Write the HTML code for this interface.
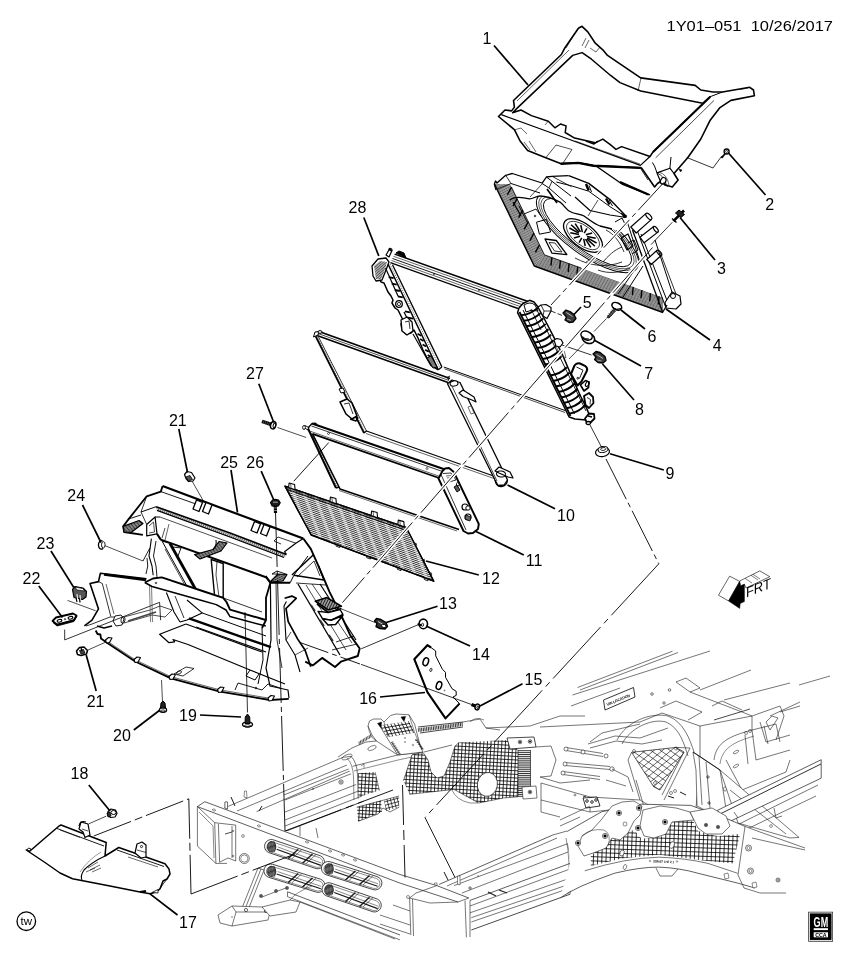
<!DOCTYPE html>
<html><head><meta charset="utf-8"><title>1Y01-051</title>
<style>
html,body{margin:0;padding:0;background:#fff;}
body{width:851px;height:960px;overflow:hidden;}
svg{display:block;will-change:transform;font-family:"Liberation Sans",sans-serif;fill:#000;}
svg path, svg line, svg polyline{stroke-linejoin:round;stroke-linecap:butt;}
</style></head><body>
<svg width="851" height="960" viewBox="0 0 851 960">
<rect x="0" y="0" width="851" height="960" fill="#fff" stroke="none"/>
<g id="chassis">
<path d="M577.5 687.5 L672.5 651.2" fill="none" stroke="#1a1a1a" stroke-width="0.6" /><path d="M580 690 L678 652.5" fill="none" stroke="#1a1a1a" stroke-width="0.6" /><path d="M572.5 695 L710 651" fill="none" stroke="#1a1a1a" stroke-width="0.6" /><path d="M571 706 L620 688" fill="none" stroke="#1a1a1a" stroke-width="0.6" /><path d="M700 690 L751 670" fill="none" stroke="#1a1a1a" stroke-width="0.6" /><path d="M724 700 L790 683" fill="none" stroke="#1a1a1a" stroke-width="0.6" /><path d="M770 716 L800 702" fill="none" stroke="#1a1a1a" stroke-width="0.6" /><path d="M603.5 700 L633.5 687.5 L635 697 L605 710 Z" fill="#fff" stroke="#000" stroke-width="0.8" /><text x="0" y="0" font-size="3.9" font-weight="bold" transform="translate(607.3,706) rotate(-22.5)" textLength="25" lengthAdjust="spacingAndGlyphs">VIN LOCATION</text><circle cx="652" cy="694" r="1.3" fill="none" stroke="#1a1a1a" stroke-width="0.6"/><circle cx="669.5" cy="690" r="1.3" fill="none" stroke="#1a1a1a" stroke-width="0.6"/><circle cx="664" cy="703" r="1.2" fill="none" stroke="#1a1a1a" stroke-width="0.6"/><path d="M224.6 807.9 L283 784 L343 757 L362 770 L365 800 L300 826 L285 831 L256 812 Z" fill="#fff" stroke="#fff" stroke-width="0.1" /><path d="M224.6 807.9 L343 757.3" fill="none" stroke="#1a1a1a" stroke-width="0.6" /><path d="M237 811 L347 765" fill="none" stroke="#1a1a1a" stroke-width="0.6" /><path d="M256.6 811.6 L352 770" fill="none" stroke="#1a1a1a" stroke-width="0.6" /><path d="M283.8 795 L356 766" fill="none" stroke="#1a1a1a" stroke-width="0.6" /><path d="M285 800 L358 771" fill="none" stroke="#1a1a1a" stroke-width="0.6" /><path d="M285 812 L360 783" fill="none" stroke="#1a1a1a" stroke-width="0.6" /><path d="M285 820 L361 790" fill="none" stroke="#1a1a1a" stroke-width="0.6" /><path d="M285 826 L362 796" fill="none" stroke="#1a1a1a" stroke-width="0.6" /><path d="M285 831.5 L364 801" fill="none" stroke="#1a1a1a" stroke-width="0.8" /><path d="M300 826 L300 838" fill="none" stroke="#1a1a1a" stroke-width="0.6" /><path d="M316 828 L318 838" fill="none" stroke="#1a1a1a" stroke-width="0.6" /><circle cx="341" cy="782" r="2.2" fill="none" stroke="#1a1a1a" stroke-width="0.6"/><circle cx="341" cy="782" r="1" fill="none" stroke="#1a1a1a" stroke-width="0.5"/><circle cx="313" cy="789" r="0.6" fill="none" stroke="#1a1a1a" stroke-width="0.5"/><path d="M231 797 L235 806" fill="none" stroke="#1a1a1a" stroke-width="1" /><path d="M262 806 L259 811" fill="none" stroke="#1a1a1a" stroke-width="1" /><path d="M225 808 L225 802 L227.5 802 L227.5 809 Z" fill="#fff" stroke="#1a1a1a" stroke-width="0.5" /><path d="M244 797 L244.5 791 L246.5 791 L247 798 Z" fill="#fff" stroke="#1a1a1a" stroke-width="0.5" /><path d="M343 757 L351 756.4 L366 742 L376.5 741 L397.7 755 L423 752 L412 755 L403.4 780.7 L399.1 796 L399.1 807.2 L358.2 821.3 L356.8 807.2 L364 801 Z" fill="#fff" stroke="#fff" stroke-width="0.1" /><path d="M351 756.4 Q357 762 357.5 775 L358.2 798.7" fill="none" stroke="#1a1a1a" stroke-width="0.6" /><path d="M347 758 Q353 764 353.5 777 L354 800" fill="none" stroke="#1a1a1a" stroke-width="0.5" /><clipPath id="c1"><polygon points="358.2,773.3 375.1,772 379.4,790.3 358.2,797.3"/></clipPath><path d="M351.5 762.1 L388.4 764 M351.3 765.7 L388.2 767.6 M351.1 769.3 L388 771.2 M350.9 772.9 L387.8 774.8 M350.7 776.5 L387.7 778.4 M350.5 780.1 L387.5 782 M350.3 783.7 L387.3 785.6 M350.1 787.3 L387.1 789.2 M349.9 790.9 L386.9 792.8 M349.8 794.5 L386.7 796.4 M349.6 798.1 L386.5 800 M349.4 801.7 L386.3 803.6 M349.2 805.3 L386.1 807.2 " clip-path="url(#c1)" fill="none" stroke="#000" stroke-width="0.8" /><clipPath id="c2"><polygon points="358.2,773.3 375.1,772 379.4,790.3 358.2,797.3"/></clipPath><path d="M391.3 767.3 L389.4 804.3 M387.7 767.1 L385.8 804.1 M384.1 766.9 L382.2 803.9 M380.6 766.7 L378.6 803.7 M377 766.5 L375 803.5 M373.4 766.4 L371.4 803.3 M369.8 766.2 L367.8 803.1 M366.2 766 L364.2 802.9 M362.6 765.8 L360.6 802.8 M359 765.6 L357 802.6 M355.4 765.4 L353.5 802.4 M351.8 765.2 L349.9 802.2 M348.2 765 L346.3 802 " clip-path="url(#c2)" fill="none" stroke="#000" stroke-width="0.8" /><path d="M375.1 772 L379.4 790.3" fill="none" stroke="#1a1a1a" stroke-width="0.5" /><clipPath id="c3"><polygon points="356.8,807.2 381,800.5 382,812 358.2,821.3"/></clipPath><path d="M352.2 789.6 L388.8 791.5 M352 793 L388.6 794.9 M351.8 796.4 L388.4 798.3 M351.6 799.8 L388.2 801.7 M351.4 803.1 L388.1 805.1 M351.3 806.5 L387.9 808.5 M351.1 809.9 L387.7 811.9 M350.9 813.3 L387.5 815.3 M350.7 816.7 L387.4 818.7 M350.6 820.1 L387.2 822 M350.4 823.5 L387 825.4 M350.2 826.9 L386.8 828.8 M350 830.3 L386.6 832.2 " clip-path="url(#c3)" fill="none" stroke="#000" stroke-width="0.8" /><clipPath id="c4"><polygon points="356.8,807.2 381,800.5 382,812 358.2,821.3"/></clipPath><path d="M390.7 793.7 L388.8 830.3 M387.3 793.5 L385.4 830.1 M383.9 793.3 L382 829.9 M380.5 793.1 L378.6 829.7 M377.2 792.9 L375.2 829.6 M373.8 792.8 L371.8 829.4 M370.4 792.6 L368.4 829.2 M367 792.4 L365 829 M363.6 792.2 L361.6 828.9 M360.2 792.1 L358.3 828.7 M356.8 791.9 L354.9 828.5 M353.4 791.7 L351.5 828.3 M350 791.5 L348.1 828.1 " clip-path="url(#c4)" fill="none" stroke="#000" stroke-width="0.8" /><clipPath id="c5"><polygon points="384,800 399.1,796 399.1,807.2 386,811"/></clipPath><path d="M375.8 793.6 L400.2 787.1 M376.7 796.9 L401.1 790.4 M377.6 800.2 L402 793.7 M378.5 803.5 L402.9 796.9 M379.3 806.8 L403.8 800.2 M380.2 810.1 L404.6 803.5 M381.1 813.3 L405.5 806.8 M382 816.6 L406.4 810.1 M382.9 819.9 L407.3 813.4 " clip-path="url(#c5)" fill="none" stroke="#000" stroke-width="0.7" /><clipPath id="c6"><polygon points="384,800 399.1,796 399.1,807.2 386,811"/></clipPath><path d="M401.4 787.8 L408 812.2 M398.1 788.6 L404.7 813.1 M394.8 789.5 L401.4 814 M391.6 790.4 L398.1 814.8 M388.3 791.3 L394.8 815.7 M385 792.2 L391.5 816.6 M381.7 793 L388.3 817.5 M378.4 793.9 L385 818.4 M375.1 794.8 L381.7 819.2 " clip-path="url(#c6)" fill="none" stroke="#000" stroke-width="0.7" /><path d="M356.8 807.2 L399.1 796" fill="none" stroke="#1a1a1a" stroke-width="0.6" /><path d="M358.2 821.3 L378 814 L383 808 L390 812 L399.1 807.2" fill="none" stroke="#1a1a1a" stroke-width="0.6" /><path d="M352.6 766.3 L397.7 755 L423 752" fill="none" stroke="#1a1a1a" stroke-width="0.6" /><path d="M354 771 L398 760 L412 757" fill="none" stroke="#1a1a1a" stroke-width="0.5" /><path d="M343 757.3 L351 756.4" fill="none" stroke="#1a1a1a" stroke-width="0.6" /><path d="M338 757 L352 748 L366 742 L376.5 741" fill="none" stroke="#1a1a1a" stroke-width="0.6" /><ellipse cx="347" cy="757" rx="5.5" ry="2.2" transform="rotate(-22 347 757)" fill="none" stroke="#1a1a1a" stroke-width="0.5"/><ellipse cx="372" cy="748" rx="4.5" ry="2" transform="rotate(-22 372 748)" fill="none" stroke="#1a1a1a" stroke-width="0.5"/><clipPath id="c7"><polygon points="358,742 371,734 372,737 359,745"/></clipPath><path d="M374.1 726.8 L377.9 748.3 M372.6 727.1 L376.3 748.6 M371 727.4 L374.8 748.8 M369.4 727.7 L373.2 749.1 M367.8 727.9 L371.6 749.4 M366.3 728.2 L370 749.7 M364.7 728.5 L368.5 750 M363.1 728.8 L366.9 750.2 M361.5 729 L365.3 750.5 M360 729.3 L363.7 750.8 M358.4 729.6 L362.2 751.1 M356.8 729.9 L360.6 751.3 M355.2 730.2 L359 751.6 M353.7 730.4 L357.4 751.9 M352.1 730.7 L355.9 752.2 " clip-path="url(#c7)" fill="none" stroke="#000" stroke-width="0.7" /><path d="M361 766 L364 764 L364 768" fill="none" stroke="#1a1a1a" stroke-width="0.5" /><path d="M368 726 L369.5 721 L373.7 719 L381 719 L384 722 L390.6 715.5 L396 714 L409 714.8 L414.6 724 L420.3 746.5 L423 752 L397.7 755 L376.5 741 L372 735 Z" fill="#fff" stroke="#1a1a1a" stroke-width="0.6" /><clipPath id="c8"><polygon points="379.4,725.4 409,721.2 414.6,732.4 388,737"/></clipPath><path d="M371.9 709.4 L413.8 702 M372.5 712.7 L414.4 705.3 M373.1 716.1 L415 708.7 M373.7 719.4 L415.6 712 M374.3 722.8 L416.2 715.4 M374.9 726.1 L416.8 718.7 M375.4 729.4 L417.4 722.1 M376 732.8 L418 725.4 M376.6 736.1 L418.6 728.8 M377.2 739.5 L419.1 732.1 M377.8 742.8 L419.7 735.4 M378.4 746.2 L420.3 738.8 M379 749.5 L420.9 742.1 M379.6 752.9 L421.5 745.5 M380.2 756.2 L422.1 748.8 " clip-path="url(#c8)" fill="none" stroke="#000" stroke-width="0.8" /><clipPath id="c9"><polygon points="379.4,725.4 409,721.2 414.6,732.4 388,737"/></clipPath><path d="M409.6 699.7 L427.6 738.3 M406.5 701.2 L424.5 739.8 M403.4 702.6 L421.4 741.2 M400.3 704.1 L418.3 742.6 M397.2 705.5 L415.2 744.1 M394.2 706.9 L412.2 745.5 M391.1 708.4 L409.1 747 M388 709.8 L406 748.4 M384.9 711.2 L402.9 749.8 M381.8 712.7 L399.8 751.3 M378.8 714.1 L396.8 752.7 M375.7 715.6 L393.7 754.1 M372.6 717 L390.6 755.6 M369.5 718.4 L387.5 757 M366.4 719.9 L384.4 758.5 " clip-path="url(#c9)" fill="none" stroke="#000" stroke-width="0.8" /><path d="M379.4 725.4 L397.7 755" fill="none" stroke="#1a1a1a" stroke-width="0.6" /><path d="M384 722 L388 737" fill="none" stroke="#1a1a1a" stroke-width="0.5" /><path d="M409 714.8 L414.6 732.4 L422 750" fill="none" stroke="#1a1a1a" stroke-width="0.5" /><clipPath id="c10"><polygon points="390.6,742.3 393,741 401,754 398.5,755"/></clipPath><path d="M383.3 739 L404.4 735.3 M383.7 741.2 L404.8 737.5 M384.1 743.4 L405.2 739.6 M384.5 745.5 L405.6 741.8 M384.9 747.7 L406 744 M385.2 749.9 L406.4 746.1 M385.6 752 L406.7 748.3 M386 754.2 L407.1 750.5 M386.4 756.4 L407.5 752.6 M386.8 758.5 L407.9 754.8 M387.2 760.7 L408.3 757 " clip-path="url(#c10)" fill="none" stroke="#000" stroke-width="0.7" /><path d="M391.5 742 L400 754.5" fill="none" stroke="#1a1a1a" stroke-width="0.7" /><clipPath id="c11"><polygon points="414.6,739.5 417,738.5 424,749 422,750"/></clipPath><path d="M408.1 735.1 L426.7 731.8 M408.5 737.2 L427.1 733.9 M408.9 739.4 L427.4 736.1 M409.3 741.6 L427.8 738.3 M409.6 743.7 L428.2 740.4 M410 745.9 L428.6 742.6 M410.4 748.1 L429 744.8 M410.8 750.2 L429.3 746.9 M411.2 752.4 L429.7 749.1 M411.5 754.6 L430.1 751.3 M411.9 756.7 L430.5 753.4 " clip-path="url(#c11)" fill="none" stroke="#000" stroke-width="0.7" /><path d="M415.5 739 L423 749.5" fill="none" stroke="#1a1a1a" stroke-width="0.7" /><path d="M377.5 723.5 L381.5 722 L381 727.5 Z" fill="#000" stroke="#000" stroke-width="0.5" /><path d="M401 717 L405.5 716.5 L404 721.5 Z" fill="#000" stroke="#000" stroke-width="0.5" /><circle cx="405" cy="738" r="0.6" fill="none" stroke="#1a1a1a" stroke-width="0.4"/><circle cx="405" cy="742" r="0.6" fill="none" stroke="#1a1a1a" stroke-width="0.4"/><circle cx="413" cy="745" r="0.8" fill="none" stroke="#1a1a1a" stroke-width="0.4"/><path d="M368 726 Q370 738 376.5 741" fill="none" stroke="#1a1a1a" stroke-width="0.5" /><clipPath id="c12"><polygon points="417.4,728.2 450,724.3 463,722 463,726 450,728 418.5,732"/></clipPath><path d="M463.4 699.5 L467.8 750 M461.7 699.7 L466.1 750.2 M460 699.8 L464.4 750.3 M458.3 700 L462.7 750.5 M456.6 700.1 L461 750.6 M454.9 700.3 L459.3 750.8 M453.2 700.4 L457.7 750.9 M451.5 700.6 L456 751.1 M449.8 700.7 L454.3 751.2 M448.2 700.9 L452.6 751.4 M446.5 701 L450.9 751.5 M444.8 701.2 L449.2 751.7 M443.1 701.3 L447.5 751.8 M441.4 701.5 L445.8 751.9 M439.7 701.6 L444.1 752.1 M438 701.8 L442.4 752.2 M436.3 701.9 L440.7 752.4 M434.6 702.1 L439 752.5 M432.9 702.2 L437.3 752.7 M431.2 702.3 L435.6 752.8 M429.5 702.5 L433.9 753 M427.8 702.6 L432.2 753.1 M426.1 702.8 L430.6 753.3 M424.4 702.9 L428.9 753.4 M422.7 703.1 L427.2 753.6 M421.1 703.2 L425.5 753.7 M419.4 703.4 L423.8 753.9 M417.7 703.5 L422.1 754 M416 703.7 L420.4 754.2 M414.3 703.8 L418.7 754.3 M412.6 704 L417 754.5 " clip-path="url(#c12)" fill="none" stroke="#000" stroke-width="0.8" /><path d="M418 727 L463 722" fill="none" stroke="#1a1a1a" stroke-width="0.8" /><path d="M420 733 L463 727" fill="none" stroke="#1a1a1a" stroke-width="0.8" /><path d="M403.4 780.7 L412 754.8 L423 752.3 L428 760 L431 772 L437 778 L444 776 L450 762 L455 746 L459 742.5 L508 740 L518 750 L518 796.8 L503.4 798 L478.7 803 L454 789.4 L409.6 794.3 Z" fill="#fff" stroke="#fff" stroke-width="0.1" /><clipPath id="c13"><polygon points="403.4,780.7 412,754.8 423,752.3 428,760 431,772 437,778 444,776 450,762 455,746 459,742.5 508,740 518,750 518,796.8 503.4,798 478.7,803 454,789.4 409.6,794.3"/></clipPath><path d="M397 699.7 L531.6 706.7 M396.8 703.3 L531.4 710.3 M396.6 706.9 L531.2 713.9 M396.4 710.5 L531 717.5 M396.2 714 L530.8 721.1 M396 717.6 L530.6 724.7 M395.9 721.2 L530.4 728.3 M395.7 724.8 L530.3 731.9 M395.5 728.4 L530.1 735.5 M395.3 732 L529.9 739.1 M395.1 735.6 L529.7 742.7 M394.9 739.2 L529.5 746.3 M394.7 742.8 L529.3 749.9 M394.5 746.4 L529.1 753.5 M394.3 750 L528.9 757.1 M394.2 753.6 L528.7 760.6 M394 757.2 L528.6 764.2 M393.8 760.8 L528.4 767.8 M393.6 764.4 L528.2 771.4 M393.4 768 L528 775 M393.2 771.6 L527.8 778.6 M393 775.2 L527.6 782.2 M392.8 778.8 L527.4 785.8 M392.7 782.4 L527.2 789.4 M392.5 785.9 L527.1 793 M392.3 789.5 L526.9 796.6 M392.1 793.1 L526.7 800.2 M391.9 796.7 L526.5 803.8 M391.7 800.3 L526.3 807.4 M391.5 803.9 L526.1 811 M391.3 807.5 L525.9 814.6 M391.1 811.1 L525.7 818.2 M391 814.7 L525.5 821.8 M390.8 818.3 L525.4 825.4 M390.6 821.9 L525.2 829 M390.4 825.5 L525 832.5 M390.2 829.1 L524.8 836.1 M390 832.7 L524.6 839.7 M389.8 836.3 L524.4 843.3 " clip-path="url(#c13)" fill="none" stroke="#000" stroke-width="0.8" /><clipPath id="c14"><polygon points="403.4,780.7 412,754.8 423,752.3 428,760 431,772 437,778 444,776 450,762 455,746 459,742.5 508,740 518,750 518,796.8 503.4,798 478.7,803 454,789.4 409.6,794.3"/></clipPath><path d="M532.5 707.8 L525.5 842.4 M528.9 707.6 L521.9 842.2 M525.3 707.4 L518.3 842 M521.7 707.2 L514.7 841.8 M518.2 707 L511.1 841.6 M514.6 706.8 L507.5 841.4 M511 706.7 L503.9 841.2 M507.4 706.5 L500.3 841.1 M503.8 706.3 L496.7 840.9 M500.2 706.1 L493.1 840.7 M496.6 705.9 L489.5 840.5 M493 705.7 L485.9 840.3 M489.4 705.5 L482.3 840.1 M485.8 705.3 L478.7 839.9 M482.2 705.1 L475.1 839.7 M478.6 705 L471.6 839.5 M475 704.8 L468 839.4 M471.4 704.6 L464.4 839.2 M467.8 704.4 L460.8 839 M464.2 704.2 L457.2 838.8 M460.6 704 L453.6 838.6 M457 703.8 L450 838.4 M453.4 703.6 L446.4 838.2 M449.8 703.5 L442.8 838 M446.3 703.3 L439.2 837.9 M442.7 703.1 L435.6 837.7 M439.1 702.9 L432 837.5 M435.5 702.7 L428.4 837.3 M431.9 702.5 L424.8 837.1 M428.3 702.3 L421.2 836.9 M424.7 702.1 L417.6 836.7 M421.1 701.9 L414 836.5 M417.5 701.8 L410.4 836.3 M413.9 701.6 L406.8 836.2 M410.3 701.4 L403.2 836 M406.7 701.2 L399.7 835.8 M403.1 701 L396.1 835.6 M399.5 700.8 L392.5 835.4 M395.9 700.6 L388.9 835.2 " clip-path="url(#c14)" fill="none" stroke="#000" stroke-width="0.8" /><ellipse cx="487.4" cy="784.4" rx="10" ry="12" transform="rotate(10 487.4 784.4)" fill="#fff" stroke="#1a1a1a" stroke-width="0.7"/><path d="M403.4 780.7 L412 754.8 L423 752.3 L428 760 L431 772 L437 778 L444 776 L450 762 L455 746 L459 742.5" fill="none" stroke="#1a1a1a" stroke-width="0.6" /><path d="M409.6 794.3 L454 789.4 L478.7 803 L503.4 798 L518 796.8" fill="none" stroke="#1a1a1a" stroke-width="0.6" /><path d="M452 790 Q456 800 470 803 L478 803" fill="none" stroke="#1a1a1a" stroke-width="0.5" /><clipPath id="c15"><polygon points="518,750 530.5,750 530.5,797 518,797"/></clipPath><path d="M497.9 746.9 L550.6 746.9 M497.9 748.8 L550.6 748.8 M497.9 750.7 L550.6 750.7 M497.9 752.6 L550.6 752.6 M497.9 754.5 L550.6 754.5 M497.9 756.4 L550.6 756.4 M497.9 758.3 L550.6 758.3 M497.9 760.2 L550.6 760.2 M497.9 762.1 L550.6 762.1 M497.9 764 L550.6 764 M497.9 765.9 L550.6 765.9 M497.9 767.8 L550.6 767.8 M497.9 769.7 L550.6 769.7 M497.9 771.6 L550.6 771.6 M497.9 773.5 L550.6 773.5 M497.9 775.4 L550.6 775.4 M497.9 777.3 L550.6 777.3 M497.9 779.2 L550.6 779.2 M497.9 781.1 L550.6 781.1 M497.9 783 L550.6 783 M497.9 784.9 L550.6 784.9 M497.9 786.8 L550.6 786.8 M497.9 788.7 L550.6 788.7 M497.9 790.6 L550.6 790.6 M497.9 792.5 L550.6 792.5 M497.9 794.4 L550.6 794.4 M497.9 796.3 L550.6 796.3 M497.9 798.2 L550.6 798.2 M497.9 800.1 L550.6 800.1 " clip-path="url(#c15)" fill="none" stroke="#000" stroke-width="0.8" /><path d="M518 750 L518 797" fill="none" stroke="#1a1a1a" stroke-width="0.7" /><path d="M530.5 750 L530.5 797" fill="none" stroke="#1a1a1a" stroke-width="0.7" /><path d="M507 738 L534 737 L536 747 L510 749 Z" fill="#fff" stroke="#1a1a1a" stroke-width="0.8" /><circle cx="520" cy="742" r="1.8" fill="#fff" stroke="#1a1a1a" stroke-width="0.6"/><circle cx="520" cy="742" r="0.8" fill="#000" stroke="#000" stroke-width="0.5"/><circle cx="530" cy="741.5" r="1.8" fill="#fff" stroke="#1a1a1a" stroke-width="0.6"/><circle cx="530" cy="741.5" r="0.8" fill="#000" stroke="#000" stroke-width="0.5"/><path d="M522 787 L536 786 L537 798 L523 799 Z" fill="#fff" stroke="#1a1a1a" stroke-width="0.6" /><circle cx="530" cy="792" r="1.8" fill="#fff" stroke="#1a1a1a" stroke-width="0.6"/><circle cx="530" cy="792" r="0.8" fill="#000" stroke="#000" stroke-width="0.5"/><path d="M463 722 L480 719 L486 728 L500 730" fill="none" stroke="#1a1a1a" stroke-width="0.6" /><path d="M424 752 L452 745" fill="none" stroke="#1a1a1a" stroke-width="0.6" /><path d="M470 722 Q476 716 484 720" fill="none" stroke="#1a1a1a" stroke-width="0.5" /><path d="M486 728 L530 726 L560 716 L585 716" fill="none" stroke="#1a1a1a" stroke-width="0.6" /><path d="M540 727 L640 722" fill="none" stroke="#1a1a1a" stroke-width="0.6" /><path d="M536 747 L551 746 L556 760 L551 776 L540 777" fill="none" stroke="#1a1a1a" stroke-width="0.6" /><path d="M540 777 L560 783 L590 780" fill="none" stroke="#1a1a1a" stroke-width="0.6" /><path d="M566 747.5 L603 753.5" fill="none" stroke="#1a1a1a" stroke-width="0.6" /><path d="M566 750.5 L603 756.5" fill="none" stroke="#1a1a1a" stroke-width="0.6" /><circle cx="566" cy="749" r="2" fill="#fff" stroke="#1a1a1a" stroke-width="0.6"/><path d="M565 762.5 L610 766.5" fill="none" stroke="#1a1a1a" stroke-width="0.6" /><path d="M565 765.5 L610 769.5" fill="none" stroke="#1a1a1a" stroke-width="0.6" /><circle cx="565" cy="764" r="2" fill="#fff" stroke="#1a1a1a" stroke-width="0.6"/><path d="M563 771.5 L600 776.5" fill="none" stroke="#1a1a1a" stroke-width="0.6" /><path d="M563 774.5 L600 779.5" fill="none" stroke="#1a1a1a" stroke-width="0.6" /><circle cx="563" cy="773" r="2" fill="#fff" stroke="#1a1a1a" stroke-width="0.6"/><circle cx="583" cy="752" r="2" fill="#fff" stroke="#1a1a1a" stroke-width="0.6"/><circle cx="606" cy="756" r="2" fill="#fff" stroke="#1a1a1a" stroke-width="0.6"/><circle cx="612" cy="769" r="2.2" fill="#fff" stroke="#1a1a1a" stroke-width="0.6"/><path d="M588 744 L615 736 L640 738 L668 728" fill="none" stroke="#1a1a1a" stroke-width="0.6" /><path d="M590 748 L616 741 L642 744 L662 740" fill="none" stroke="#1a1a1a" stroke-width="0.6" /><path d="M612 769 L628 777 L633 792" fill="none" stroke="#1a1a1a" stroke-width="0.6" /><path d="M606 780 L626 786" fill="none" stroke="#1a1a1a" stroke-width="0.6" /><path d="M541 783 L590 797 L590 812 L541 800 Z" fill="#fff" stroke="#1a1a1a" stroke-width="0.6" /><path d="M541 800 L541 812 L560 817" fill="none" stroke="#1a1a1a" stroke-width="0.6" /><circle cx="575" cy="795" r="1" fill="none" stroke="#1a1a1a" stroke-width="0.5"/><path d="M590 797 L640 800" fill="none" stroke="#1a1a1a" stroke-width="0.6" /><path d="M590 812 L628 808" fill="none" stroke="#1a1a1a" stroke-width="0.6" /><path d="M583 798 L597 797 L600 806 L586 808 Z" fill="#fff" stroke="#000" stroke-width="0.8" /><circle cx="587" cy="801" r="1.3" fill="none" stroke="#000" stroke-width="0.8"/><circle cx="592" cy="802" r="1.3" fill="none" stroke="#000" stroke-width="0.8"/><circle cx="596" cy="800" r="1.3" fill="none" stroke="#000" stroke-width="0.8"/><path d="M617 740 C626 722 650 712 668 716 C684 722 690 740 694 752" fill="none" stroke="#1a1a1a" stroke-width="0.6" /><path d="M622 744 C630 728 652 718 666 722 C680 728 684 744 688 756" fill="none" stroke="#1a1a1a" stroke-width="0.6" /><path d="M590 742 L602 733 L640 724" fill="none" stroke="#1a1a1a" stroke-width="0.6" /><path d="M631.6 752.3 L676 747.4 L684 752 L660 790 L653.8 786.9 Z" fill="#fff" stroke="#1a1a1a" stroke-width="0.7" /><clipPath id="c16"><polygon points="631.6,752.3 676,747.4 684,752 660,790 653.8,786.9"/></clipPath><path d="M650.6 716.6 L709.2 757.7 M647.4 721.2 L706 762.2 M644.3 725.7 L702.9 766.7 M641.1 730.2 L699.7 771.2 M638 734.7 L696.6 775.7 M634.8 739.2 L693.4 780.2 M631.7 743.7 L690.3 784.7 M628.5 748.2 L687.1 789.2 M625.3 752.7 L683.9 793.7 M622.2 757.2 L680.8 798.2 M619 761.7 L677.6 802.7 M615.9 766.2 L674.5 807.2 M612.7 770.7 L671.3 811.7 M609.6 775.2 L668.2 816.2 M606.4 779.7 L665 820.8 " clip-path="url(#c16)" fill="none" stroke="#000" stroke-width="0.6" /><clipPath id="c17"><polygon points="631.6,752.3 676,747.4 684,752 660,790 653.8,786.9"/></clipPath><path d="M605.7 762.2 L660.5 716.2 M609.2 766.4 L664 720.4 M612.7 770.6 L667.5 724.6 M616.3 774.8 L671.1 728.9 M619.8 779.1 L674.6 733.1 M623.3 783.3 L678.1 737.3 M626.9 787.5 L681.7 741.5 M630.4 791.7 L685.2 745.7 M633.9 795.9 L688.7 749.9 M637.5 800.1 L692.3 754.1 M641 804.3 L695.8 758.3 M644.5 808.5 L699.3 762.6 M648.1 812.8 L702.9 766.8 M651.6 817 L706.4 771 M655.1 821.2 L709.9 775.2 " clip-path="url(#c17)" fill="none" stroke="#000" stroke-width="0.6" /><path d="M676 747.4 L690 748 L664 800" fill="none" stroke="#1a1a1a" stroke-width="0.6" /><path d="M684 752 L662 795" fill="none" stroke="#1a1a1a" stroke-width="0.6" /><circle cx="634" cy="751" r="1.5" fill="none" stroke="#1a1a1a" stroke-width="0.5"/><circle cx="676" cy="748.5" r="1.5" fill="none" stroke="#1a1a1a" stroke-width="0.5"/><circle cx="655" cy="783" r="1.5" fill="none" stroke="#1a1a1a" stroke-width="0.5"/><path d="M631.6 752.3 L628 760 L640 800 L650 806" fill="none" stroke="#1a1a1a" stroke-width="0.6" /><path d="M636 780 L645 810" fill="none" stroke="#1a1a1a" stroke-width="0.6" /><path d="M660 708 L676 701 L702 712 L688 720" fill="none" stroke="#1a1a1a" stroke-width="0.6" /><path d="M640 722 L662 713 L700 726 L752 716" fill="none" stroke="#1a1a1a" stroke-width="0.6" /><path d="M676 682 L686 678 L700 688 L690 692 L676 682" fill="none" stroke="#1a1a1a" stroke-width="0.6" /><path d="M690 692 L742 712 L752 716 L752 730" fill="none" stroke="#1a1a1a" stroke-width="0.6" /><path d="M700 726 L700 760 L696 808" fill="none" stroke="#1a1a1a" stroke-width="0.6" /><path d="M712 706 L722 701 L742 710" fill="none" stroke="#1a1a1a" stroke-width="0.6" /><path d="M714 720 L750 709" fill="none" stroke="#1a1a1a" stroke-width="0.8" /><path d="M752 716 L780 706 L784 716 L776 740" fill="none" stroke="#1a1a1a" stroke-width="0.6" /><path d="M760 722 L766 742 L790 735" fill="none" stroke="#1a1a1a" stroke-width="0.6" /><path d="M714 760 C716 742 730 736 752 730 L776 724" fill="none" stroke="#1a1a1a" stroke-width="0.6" /><path d="M720 764 C722 748 734 742 754 736" fill="none" stroke="#1a1a1a" stroke-width="0.5" /><path d="M752 730 L756 760 L790 750" fill="none" stroke="#1a1a1a" stroke-width="0.6" /><path d="M745 735 L748 764" fill="none" stroke="#1a1a1a" stroke-width="0.6" /><path d="M764 726 L768 744" fill="none" stroke="#1a1a1a" stroke-width="0.6" /><path d="M776 724 L780 742" fill="none" stroke="#1a1a1a" stroke-width="0.6" /><circle cx="750" cy="731" r="1.5" fill="none" stroke="#1a1a1a" stroke-width="0.5"/><circle cx="746" cy="733" r="1.5" fill="none" stroke="#1a1a1a" stroke-width="0.5"/><path d="M766 722 L772 716 L778 718 L770 730 L766 722" fill="none" stroke="#1a1a1a" stroke-width="0.6" /><ellipse cx="736" cy="752" rx="1.2" ry="3" transform="rotate(60 736 752)" fill="none" stroke="#1a1a1a" stroke-width="0.5"/><ellipse cx="736" cy="766" rx="1.2" ry="3" transform="rotate(60 736 766)" fill="none" stroke="#1a1a1a" stroke-width="0.5"/><path d="M726 760 L742 790 L786 772" fill="none" stroke="#1a1a1a" stroke-width="0.6" /><path d="M786 772 L790 760" fill="none" stroke="#1a1a1a" stroke-width="0.6" /><path d="M799 685 L830 676" fill="none" stroke="#1a1a1a" stroke-width="0.6" /><path d="M780 712 L800 706" fill="none" stroke="#1a1a1a" stroke-width="0.6" /><path d="M693 752 L699 756 L720 770 L728 822 L697 806 L696 770 Z" fill="#fff" stroke="#1a1a1a" stroke-width="0.6" /><path d="M699 756 L702 805" fill="none" stroke="#1a1a1a" stroke-width="0.6" /><path d="M706 762 L710 808" fill="none" stroke="#1a1a1a" stroke-width="0.6" /><path d="M693 752 L720 770" fill="none" stroke="#1a1a1a" stroke-width="1" /><circle cx="708" cy="777" r="1.2" fill="none" stroke="#000" stroke-width="0.6"/><circle cx="709" cy="803" r="1.2" fill="none" stroke="#000" stroke-width="0.6"/><ellipse cx="725" cy="789" rx="1.5" ry="2.2" transform="rotate(0 725 789)" fill="none" stroke="#1a1a1a" stroke-width="0.5"/><path d="M720 770 L799 837.4 L790 838 L738 823 Z" fill="#fff" stroke="#1a1a1a" stroke-width="0.6" /><path d="M730 790 L786 834" fill="none" stroke="#1a1a1a" stroke-width="0.6" /><circle cx="771" cy="826" r="1.4" fill="none" stroke="#1a1a1a" stroke-width="0.5"/><path d="M717.5 810.3 L821.2 759.7 L821.2 778.2 L727.4 822.6 Z" fill="#fff" stroke="#1a1a1a" stroke-width="0.7" /><path d="M720 814 L821 764" fill="none" stroke="#1a1a1a" stroke-width="0.9" /><path d="M735 826 L818 785" fill="none" stroke="#1a1a1a" stroke-width="0.6" /><path d="M745 830 L816 796" fill="none" stroke="#1a1a1a" stroke-width="0.6" /><path d="M774 808 L776 818 L782 816" fill="none" stroke="#1a1a1a" stroke-width="0.6" /><path d="M439.2 884.4 L552.8 835 L567 831 L572 892 L570 894.2 L471.3 930 L470 900 Z" fill="#fff" stroke="#fff" stroke-width="0.1" /><path d="M439.2 884.4 L552.8 835" fill="none" stroke="#1a1a1a" stroke-width="0.7" /><path d="M447 886 L557 838" fill="none" stroke="#1a1a1a" stroke-width="0.6" /><path d="M454 885.6 L567.6 843.7" fill="none" stroke="#1a1a1a" stroke-width="0.6" /><path d="M462 893 L568 852" fill="none" stroke="#1a1a1a" stroke-width="0.6" /><path d="M470 900.4 L570 863.4" fill="none" stroke="#1a1a1a" stroke-width="0.7" /><path d="M470 906 L570 869" fill="none" stroke="#1a1a1a" stroke-width="0.6" /><path d="M470 912.8 L570 878.2" fill="none" stroke="#1a1a1a" stroke-width="0.6" /><path d="M471.3 917.7 L570 884" fill="none" stroke="#1a1a1a" stroke-width="0.6" /><path d="M471.3 922 L570 888.1" fill="none" stroke="#1a1a1a" stroke-width="0.6" /><path d="M471.3 930 L570 894.2" fill="none" stroke="#1a1a1a" stroke-width="0.8" /><path d="M552.8 835 L567 831 L575 838" fill="none" stroke="#1a1a1a" stroke-width="0.6" /><path d="M567.6 843.7 Q573 865 570 894.2" fill="none" stroke="#1a1a1a" stroke-width="0.6" /><path d="M566 838 Q571 862 568 894" fill="none" stroke="#1a1a1a" stroke-width="0.5" /><circle cx="470" cy="888" r="1.2" fill="none" stroke="#000" stroke-width="0.6"/><path d="M488 892 L496 896" fill="none" stroke="#1a1a1a" stroke-width="1.2" /><path d="M499 890 L507 893" fill="none" stroke="#1a1a1a" stroke-width="1.2" /><circle cx="478" cy="876" r="0.5" fill="none" stroke="#1a1a1a" stroke-width="0.4"/><path d="M457.5 884 L457.5 876 L460 876 L460 885 Z" fill="#fff" stroke="#1a1a1a" stroke-width="0.5" /><path d="M434 890 L434.5 883 L437 883 L437 891 Z" fill="#fff" stroke="#1a1a1a" stroke-width="0.5" /><path d="M444 872 L448 880" fill="none" stroke="#1a1a1a" stroke-width="1" /><path d="M567.4 831.3 L602 811.6 L641.4 804.2 L690.8 805.4 L727.8 819 L745 826.4 L760 832 L755 888 L737.7 883.1 L698.2 873.3 L658.7 867.1 L614.3 873.3 L574.8 888 L560 898 L570 864 Z" fill="#fff" stroke="#fff" stroke-width="0.1" /><path d="M567.4 831.3 L602 811.6 L641.4 804.2 L690.8 805.4 L727.8 819 L745 826.4" fill="none" stroke="#1a1a1a" stroke-width="0.7" /><path d="M560 898 Q575 887 614.3 873.3 Q640 867 658.7 867.1 Q680 868 698.2 873.3 L737.7 883.1 L755 888" fill="none" stroke="#1a1a1a" stroke-width="0.7" /><path d="M584.7 870.8 Q625 858 658.7 857.2 Q685 858 708 863.4 L737.7 873.3" fill="none" stroke="#1a1a1a" stroke-width="0.6" /><clipPath id="c18"><polygon points="590.8,865.9 590.8,856 611.8,836.2 634,830 641.4,838.7 663.6,836.2 671,819 693.3,821.4 698.2,831.3 718,836.2 740.2,833.8 732.8,863.4 708,861 658.7,854.8 621.7,858.5"/></clipPath><path d="M588.2 755.7 L748.7 761.3 M588 759.9 L748.5 765.5 M587.9 764.1 L748.4 769.7 M587.7 768.3 L748.2 773.9 M587.6 772.5 L748.1 778.1 M587.5 776.7 L747.9 782.3 M587.3 780.9 L747.8 786.5 M587.2 785.1 L747.7 790.7 M587 789.3 L747.5 794.9 M586.9 793.5 L747.4 799.1 M586.7 797.7 L747.2 803.3 M586.6 801.9 L747.1 807.5 M586.4 806.1 L746.9 811.7 M586.3 810.3 L746.8 815.9 M586.1 814.5 L746.6 820.1 M586 818.7 L746.5 824.3 M585.8 822.9 L746.3 828.5 M585.7 827.1 L746.2 832.7 M585.5 831.3 L746 836.9 M585.4 835.5 L745.9 841.1 M585.3 839.6 L745.7 845.3 M585.1 843.8 L745.6 849.4 M585 848 L745.5 853.6 M584.8 852.2 L745.3 857.8 M584.7 856.4 L745.2 862 M584.5 860.6 L745 866.2 M584.4 864.8 L744.9 870.4 M584.2 869 L744.7 874.6 M584.1 873.2 L744.6 878.8 M583.9 877.4 L744.4 883 M583.8 881.6 L744.3 887.2 M583.6 885.8 L744.1 891.4 M583.5 890 L744 895.6 M583.3 894.2 L743.8 899.8 M583.2 898.4 L743.7 904 M583.1 902.6 L743.5 908.2 M582.9 906.8 L743.4 912.4 M582.8 911 L743.3 916.6 M582.6 915.2 L743.1 920.8 M582.5 919.4 L743 925 M582.3 923.6 L742.8 929.2 " clip-path="url(#c18)" fill="none" stroke="#000" stroke-width="0.8" /><clipPath id="c19"><polygon points="590.8,865.9 590.8,856 611.8,836.2 634,830 641.4,838.7 663.6,836.2 671,819 693.3,821.4 698.2,831.3 718,836.2 740.2,833.8 732.8,863.4 708,861 658.7,854.8 621.7,858.5"/></clipPath><path d="M752.3 765.1 L746.6 925.6 M748.1 765 L742.4 925.5 M743.9 764.8 L738.3 925.3 M739.7 764.7 L734.1 925.2 M735.5 764.5 L729.9 925 M731.3 764.4 L725.7 924.9 M727.1 764.3 L721.5 924.7 M722.9 764.1 L717.3 924.6 M718.7 764 L713.1 924.5 M714.5 763.8 L708.9 924.3 M710.3 763.7 L704.7 924.2 M706.1 763.5 L700.5 924 M701.9 763.4 L696.3 923.9 M697.7 763.2 L692.1 923.7 M693.5 763.1 L687.9 923.6 M689.3 762.9 L683.7 923.4 M685.1 762.8 L679.5 923.3 M680.9 762.6 L675.3 923.1 M676.7 762.5 L671.1 923 M672.5 762.4 L666.9 922.8 M668.3 762.2 L662.7 922.7 M664.1 762.1 L658.5 922.5 M659.9 761.9 L654.3 922.4 M655.7 761.8 L650.1 922.3 M651.5 761.6 L645.9 922.1 M647.3 761.5 L641.7 922 M643.1 761.3 L637.5 921.8 M638.9 761.2 L633.3 921.7 M634.7 761 L629.1 921.5 M630.5 760.9 L624.9 921.4 M626.3 760.7 L620.7 921.2 M622.1 760.6 L616.5 921.1 M617.9 760.4 L612.3 920.9 M613.7 760.3 L608.1 920.8 M609.5 760.2 L603.9 920.6 M605.3 760 L599.7 920.5 M601.1 759.9 L595.5 920.4 M596.9 759.7 L591.3 920.2 M592.7 759.6 L587.1 920.1 M588.6 759.4 L582.9 919.9 M584.4 759.3 L578.7 919.8 " clip-path="url(#c19)" fill="none" stroke="#000" stroke-width="0.8" /><path d="M601 820 L612 806 L622 802 L634 801 L642 806 L640 815 L634 821 L628 833 L620 840 L612 838 L606 848 L596 852 L584 856 L578 846 L582 836 L592 830 Z" fill="#fff" stroke="#1a1a1a" stroke-width="0.6" /><path d="M582 836 Q590 828 604 830 Q612 834 608 846" fill="none" stroke="#1a1a1a" stroke-width="0.5" /><path d="M643 810 L660 806 L676 808 L690 812 L694 820 L672 822 L666 834 L654 838 L644 836 L640 826 Z" fill="#fff" stroke="#1a1a1a" stroke-width="0.6" /><path d="M690 812 L712 808 L726 816 L730 826 L722 834 L706 834 L698 828 Z" fill="#fff" stroke="#1a1a1a" stroke-width="0.6" /><circle cx="619" cy="813" r="2.6" fill="#fff" stroke="#1a1a1a" stroke-width="0.6"/><circle cx="619" cy="813" r="1.3" fill="#000" stroke="#000" stroke-width="0.5"/><circle cx="639" cy="808" r="2.6" fill="#fff" stroke="#1a1a1a" stroke-width="0.6"/><circle cx="639" cy="808" r="1.3" fill="#000" stroke="#000" stroke-width="0.5"/><circle cx="605" cy="836" r="2.6" fill="#fff" stroke="#1a1a1a" stroke-width="0.6"/><circle cx="605" cy="836" r="1.3" fill="#000" stroke="#000" stroke-width="0.5"/><circle cx="578" cy="843" r="2.6" fill="#fff" stroke="#1a1a1a" stroke-width="0.6"/><circle cx="578" cy="843" r="1.3" fill="#000" stroke="#000" stroke-width="0.5"/><circle cx="638" cy="828" r="2.6" fill="#fff" stroke="#1a1a1a" stroke-width="0.6"/><circle cx="638" cy="828" r="1.3" fill="#000" stroke="#000" stroke-width="0.5"/><circle cx="665" cy="822" r="2.6" fill="#fff" stroke="#1a1a1a" stroke-width="0.6"/><circle cx="665" cy="822" r="1.3" fill="#000" stroke="#000" stroke-width="0.5"/><circle cx="706" cy="825" r="1.7" fill="#fff" stroke="#1a1a1a" stroke-width="0.6"/><circle cx="706" cy="825" r="0.8" fill="#000" stroke="#000" stroke-width="0.5"/><circle cx="718" cy="827" r="1.7" fill="#fff" stroke="#1a1a1a" stroke-width="0.6"/><circle cx="718" cy="827" r="0.8" fill="#000" stroke="#000" stroke-width="0.5"/><circle cx="625" cy="824" r="2" fill="none" stroke="#1a1a1a" stroke-width="0.5"/><ellipse cx="622" cy="853" rx="2" ry="3.2" transform="rotate(20 622 853)" fill="#fff" stroke="#1a1a1a" stroke-width="0.6"/><ellipse cx="672" cy="845" rx="2.2" ry="3.6" transform="rotate(20 672 845)" fill="#fff" stroke="#1a1a1a" stroke-width="0.6"/><ellipse cx="625" cy="867" rx="1.6" ry="2.6" transform="rotate(20 625 867)" fill="none" stroke="#1a1a1a" stroke-width="0.5"/><text x="0" y="0" font-size="3.2" font-weight="bold" transform="translate(653,862.5) rotate(2)" textLength="21" lengthAdjust="spacingAndGlyphs">S55007 LHF 2.1</text><circle cx="650" cy="861" r="0.8" fill="none" stroke="#1a1a1a" stroke-width="0.4"/><circle cx="677" cy="861.5" r="0.8" fill="none" stroke="#1a1a1a" stroke-width="0.4"/><path d="M745 826.4 L760 832 L805 848" fill="none" stroke="#1a1a1a" stroke-width="0.6" /><path d="M745 826.4 L738 875 L744 888 L760 893 L786 893" fill="none" stroke="#1a1a1a" stroke-width="0.6" /><path d="M752 838 L805 850" fill="none" stroke="#1a1a1a" stroke-width="0.6" /><circle cx="748.5" cy="848" r="3" fill="none" stroke="#1a1a1a" stroke-width="0.6"/><circle cx="748.5" cy="848" r="1.5" fill="none" stroke="#1a1a1a" stroke-width="0.5"/><circle cx="750.5" cy="871" r="3" fill="none" stroke="#1a1a1a" stroke-width="0.6"/><circle cx="750.5" cy="871" r="1.5" fill="none" stroke="#1a1a1a" stroke-width="0.5"/><circle cx="778" cy="880" r="2" fill="none" stroke="#1a1a1a" stroke-width="0.6"/><circle cx="778" cy="880" r="1" fill="none" stroke="#1a1a1a" stroke-width="0.5"/><path d="M752 883 L756 882 L757 887 L753 888 Z" fill="#fff" stroke="#1a1a1a" stroke-width="0.5" /><path d="M724 874 L728 873 L729 878 L725 879 Z" fill="#fff" stroke="#1a1a1a" stroke-width="0.5" /><path d="M656 868 L660 876 L672 876 L678 869" fill="none" stroke="#1a1a1a" stroke-width="0.6" /><path d="M734 812 L738 818" fill="none" stroke="#1a1a1a" stroke-width="0.6" /><path d="M583 797 L586 796 Z" fill="#fff" stroke="#000" stroke-width="0.5" /><path d="M560 820 L590 806" fill="none" stroke="#1a1a1a" stroke-width="0.6" /><path d="M560 826 L580 817" fill="none" stroke="#1a1a1a" stroke-width="0.6" /><path d="M668 796 L674 798" fill="none" stroke="#1a1a1a" stroke-width="1" /><path d="M680 792 L686 795" fill="none" stroke="#1a1a1a" stroke-width="1" /><circle cx="671" cy="793" r="1.5" fill="none" stroke="#1a1a1a" stroke-width="0.5"/><circle cx="675" cy="791" r="1.5" fill="none" stroke="#1a1a1a" stroke-width="0.5"/><path d="M204.8 801.7 L436.8 885.6 L468.8 898 L470 937 L410 935 L287.5 891.8 L254 868 L217.5 864 L197.4 846.1 L197.4 806.6 Z" fill="#fff" stroke="#fff" stroke-width="0.1" /><path d="M204.8 801.7 L400 874.5 L436.8 885.6 L468.8 898" fill="none" stroke="#1a1a1a" stroke-width="0.7" /><path d="M197.4 806.6 L400 883.1 L458 902" fill="none" stroke="#1a1a1a" stroke-width="0.7" /><path d="M197.4 806.6 L204.8 801.7" fill="none" stroke="#1a1a1a" stroke-width="0.7" /><path d="M197.4 806.6 L197.4 846.1 L215.9 863.4 L227 863.4" fill="none" stroke="#1a1a1a" stroke-width="0.6" /><path d="M197.4 806.6 L214.7 822.7 L215.9 863.4" fill="none" stroke="#1a1a1a" stroke-width="0.6" /><path d="M199 812 L213 826 L214 858" fill="none" stroke="#1a1a1a" stroke-width="0.5" /><path d="M214.7 822.7 L235.7 825.1" fill="none" stroke="#1a1a1a" stroke-width="0.6" /><path d="M218.4 823.9 L219.6 862.2" fill="none" stroke="#1a1a1a" stroke-width="0.6" /><path d="M235.7 825.1 L235.7 860.9" fill="none" stroke="#1a1a1a" stroke-width="0.6" /><path d="M232 826 L232 858" fill="none" stroke="#1a1a1a" stroke-width="0.6" /><path d="M225 834 L232 832" fill="none" stroke="#1a1a1a" stroke-width="0.8" /><circle cx="233" cy="831" r="0.8" fill="none" stroke="#1a1a1a" stroke-width="0.5"/><circle cx="233" cy="856" r="0.8" fill="none" stroke="#1a1a1a" stroke-width="0.5"/><path d="M219.6 862.2 L228 858 L236 861" fill="none" stroke="#1a1a1a" stroke-width="0.6" /><circle cx="244.3" cy="858.5" r="5" fill="#fff" stroke="#1a1a1a" stroke-width="0.6"/><circle cx="244.3" cy="858.5" r="3.6" fill="none" stroke="#1a1a1a" stroke-width="0.5"/><circle cx="243" cy="836" r="1.4" fill="none" stroke="#1a1a1a" stroke-width="0.5"/><ellipse cx="214" cy="810" rx="1.6" ry="0.9" transform="rotate(20 214 810)" fill="none" stroke="#1a1a1a" stroke-width="0.5"/><ellipse cx="259" cy="826" rx="1.6" ry="0.9" transform="rotate(20 259 826)" fill="none" stroke="#1a1a1a" stroke-width="0.5"/><ellipse cx="307" cy="842" rx="1.6" ry="0.9" transform="rotate(20 307 842)" fill="none" stroke="#1a1a1a" stroke-width="0.5"/><ellipse cx="330" cy="851" rx="1.6" ry="0.9" transform="rotate(20 330 851)" fill="none" stroke="#1a1a1a" stroke-width="0.5"/><ellipse cx="343" cy="855" rx="1.6" ry="0.9" transform="rotate(20 343 855)" fill="none" stroke="#1a1a1a" stroke-width="0.5"/><ellipse cx="355" cy="860" rx="1.6" ry="0.9" transform="rotate(20 355 860)" fill="none" stroke="#1a1a1a" stroke-width="0.5"/><path d="M225 808 L225 802 L227.5 802 L227.5 809 Z" fill="#fff" stroke="#1a1a1a" stroke-width="0.5" /><path d="M268.5 852.5 L316.1 868.6 A6.8 6.8 0 0 0 320.5 855.8 L272.9 839.7 A6.8 6.8 0 0 0 268.5 852.5 Z" fill="#fff" stroke="#1a1a1a" stroke-width="0.8" /><path d="M269.9 851.7 L316.4 867.3 A5.1 5.1 0 0 0 319.6 857.7 L273.1 842.1 A5.1 5.1 0 0 0 269.9 851.7 Z" fill="none" stroke="#1a1a1a" stroke-width="0.5" /><clipPath id="c20"><polygon points="276.1,846.7 275.7,848.8 274.8,850.7 273.3,851.9 271.5,852.3 269.7,851.9 268.2,850.7 267.3,848.8 266.9,846.7 267.3,844.6 268.2,842.7 269.7,841.5 271.5,841.1 273.3,841.5 274.8,842.7 275.7,844.6"/></clipPath><path d="M279.2 836 L282.4 854.2 M278.2 836.1 L281.4 854.3 M277.1 836.3 L280.3 854.5 M276.1 836.5 L279.3 854.7 M275.1 836.7 L278.3 854.9 M274 836.9 L277.2 855.1 M273 837 L276.2 855.3 M272 837.2 L275.2 855.4 M270.9 837.4 L274.1 855.6 M269.9 837.6 L273.1 855.8 M268.9 837.8 L272.1 856 M267.8 838 L271 856.2 M266.8 838.1 L270 856.4 M265.8 838.3 L269 856.5 M264.7 838.5 L267.9 856.7 M263.7 838.7 L266.9 856.9 M262.7 838.9 L265.9 857.1 M261.6 839.1 L264.8 857.3 M260.6 839.2 L263.8 857.4 " clip-path="url(#c20)" fill="none" stroke="#000" stroke-width="0.8" /><path d="M273.7 841.1 Q277.7 846.6 274.2 852.1" fill="none" stroke="#1a1a1a" stroke-width="0.7" /><path d="M288.2 858.5 L298.2 849.3" fill="none" stroke="#1a1a1a" stroke-width="1.4" /><path d="M291.7 858.9 L301.7 849.7" fill="none" stroke="#1a1a1a" stroke-width="0.6" /><path d="M302.5 863.3 L312.5 854.1" fill="none" stroke="#1a1a1a" stroke-width="1.4" /><path d="M306 863.7 L316 854.5" fill="none" stroke="#1a1a1a" stroke-width="0.6" /><path d="M276.7 849.3 L320.8 865.4" fill="none" stroke="#1a1a1a" stroke-width="1.2" /><path d="M277.7 846.9 L321.3 863" fill="none" stroke="#1a1a1a" stroke-width="0.5" /><path d="M268.7 877.3 L316.3 892.1 A6.8 6.8 0 0 0 320.3 879.1 L272.7 864.3 A6.8 6.8 0 0 0 268.7 877.3 Z" fill="#fff" stroke="#1a1a1a" stroke-width="0.8" /><path d="M270 876.5 L316.5 890.8 A5.1 5.1 0 0 0 319.5 881 L273 866.7 A5.1 5.1 0 0 0 270 876.5 Z" fill="none" stroke="#1a1a1a" stroke-width="0.5" /><clipPath id="c21"><polygon points="276.1,871.4 275.7,873.5 274.8,875.4 273.3,876.6 271.5,877 269.7,876.6 268.2,875.4 267.3,873.5 266.9,871.4 267.3,869.3 268.2,867.4 269.7,866.2 271.5,865.8 273.3,866.2 274.8,867.4 275.7,869.3"/></clipPath><path d="M279.2 860.7 L282.4 878.9 M278.2 860.8 L281.4 879 M277.1 861 L280.3 879.2 M276.1 861.2 L279.3 879.4 M275.1 861.4 L278.3 879.6 M274 861.6 L277.2 879.8 M273 861.7 L276.2 880 M272 861.9 L275.2 880.1 M270.9 862.1 L274.1 880.3 M269.9 862.3 L273.1 880.5 M268.9 862.5 L272.1 880.7 M267.8 862.7 L271 880.9 M266.8 862.8 L270 881.1 M265.8 863 L269 881.2 M264.7 863.2 L267.9 881.4 M263.7 863.4 L266.9 881.6 M262.7 863.6 L265.9 881.8 M261.6 863.8 L264.8 882 M260.6 863.9 L263.8 882.1 " clip-path="url(#c21)" fill="none" stroke="#000" stroke-width="0.8" /><path d="M273.7 865.8 Q277.7 871.3 274.2 876.8" fill="none" stroke="#1a1a1a" stroke-width="0.7" /><path d="M288.2 882.6 L298.2 873.4" fill="none" stroke="#1a1a1a" stroke-width="1.4" /><path d="M291.7 883 L301.7 873.8" fill="none" stroke="#1a1a1a" stroke-width="0.6" /><path d="M302.5 887.1 L312.5 877.9" fill="none" stroke="#1a1a1a" stroke-width="1.4" /><path d="M306 887.5 L316 878.3" fill="none" stroke="#1a1a1a" stroke-width="0.6" /><path d="M276.7 874 L320.8 888.8" fill="none" stroke="#1a1a1a" stroke-width="1.2" /><path d="M277.7 871.6 L321.3 886.4" fill="none" stroke="#1a1a1a" stroke-width="0.5" /><path d="M326.2 874.8 L373.1 889.6 A6.8 6.8 0 0 0 377.1 876.6 L330.2 861.8 A6.8 6.8 0 0 0 326.2 874.8 Z" fill="#fff" stroke="#1a1a1a" stroke-width="0.8" /><path d="M327.5 874 L373.3 888.3 A5.1 5.1 0 0 0 376.3 878.5 L330.5 864.2 A5.1 5.1 0 0 0 327.5 874 Z" fill="none" stroke="#1a1a1a" stroke-width="0.5" /><clipPath id="c22"><polygon points="333.6,868.9 333.2,871 332.3,872.9 330.8,874.1 329,874.5 327.2,874.1 325.7,872.9 324.8,871 324.4,868.9 324.8,866.8 325.7,864.9 327.2,863.7 329,863.3 330.8,863.7 332.3,864.9 333.2,866.8"/></clipPath><path d="M336.7 858.2 L339.9 876.4 M335.7 858.3 L338.9 876.5 M334.6 858.5 L337.8 876.7 M333.6 858.7 L336.8 876.9 M332.6 858.9 L335.8 877.1 M331.5 859.1 L334.7 877.3 M330.5 859.2 L333.7 877.5 M329.5 859.4 L332.7 877.6 M328.4 859.6 L331.6 877.8 M327.4 859.8 L330.6 878 M326.4 860 L329.6 878.2 M325.3 860.2 L328.5 878.4 M324.3 860.3 L327.5 878.6 M323.3 860.5 L326.5 878.7 M322.2 860.7 L325.4 878.9 M321.2 860.9 L324.4 879.1 M320.2 861.1 L323.4 879.3 M319.1 861.3 L322.3 879.5 M318.1 861.4 L321.3 879.6 " clip-path="url(#c22)" fill="none" stroke="#000" stroke-width="0.8" /><path d="M331.2 863.3 Q335.2 868.8 331.7 874.3" fill="none" stroke="#1a1a1a" stroke-width="0.7" /><path d="M345.4 880.1 L355.4 870.9" fill="none" stroke="#1a1a1a" stroke-width="1.4" /><path d="M348.9 880.5 L358.9 871.3" fill="none" stroke="#1a1a1a" stroke-width="0.6" /><path d="M359.5 884.6 L369.5 875.4" fill="none" stroke="#1a1a1a" stroke-width="1.4" /><path d="M363 885 L373 875.8" fill="none" stroke="#1a1a1a" stroke-width="0.6" /><path d="M334.2 871.5 L377.6 886.3" fill="none" stroke="#1a1a1a" stroke-width="1.2" /><path d="M335.2 869.1 L378.1 883.9" fill="none" stroke="#1a1a1a" stroke-width="0.5" /><path d="M326 895.7 L372.9 911.8 A6.8 6.8 0 0 0 377.3 899 L330.4 882.9 A6.8 6.8 0 0 0 326 895.7 Z" fill="#fff" stroke="#1a1a1a" stroke-width="0.8" /><path d="M327.4 894.9 L373.2 910.5 A5.1 5.1 0 0 0 376.4 900.9 L330.6 885.3 A5.1 5.1 0 0 0 327.4 894.9 Z" fill="none" stroke="#1a1a1a" stroke-width="0.5" /><clipPath id="c23"><polygon points="333.6,889.9 333.2,892 332.3,893.9 330.8,895.1 329,895.5 327.2,895.1 325.7,893.9 324.8,892 324.4,889.9 324.8,887.8 325.7,885.9 327.2,884.7 329,884.3 330.8,884.7 332.3,885.9 333.2,887.8"/></clipPath><path d="M336.7 879.2 L339.9 897.4 M335.7 879.3 L338.9 897.5 M334.6 879.5 L337.8 897.7 M333.6 879.7 L336.8 897.9 M332.6 879.9 L335.8 898.1 M331.5 880.1 L334.7 898.3 M330.5 880.2 L333.7 898.5 M329.5 880.4 L332.7 898.6 M328.4 880.6 L331.6 898.8 M327.4 880.8 L330.6 899 M326.4 881 L329.6 899.2 M325.3 881.2 L328.5 899.4 M324.3 881.3 L327.5 899.6 M323.3 881.5 L326.5 899.7 M322.2 881.7 L325.4 899.9 M321.2 881.9 L324.4 900.1 M320.2 882.1 L323.4 900.3 M319.1 882.3 L322.3 900.5 M318.1 882.4 L321.3 900.6 " clip-path="url(#c23)" fill="none" stroke="#000" stroke-width="0.8" /><path d="M331.2 884.3 Q335.2 889.8 331.7 895.3" fill="none" stroke="#1a1a1a" stroke-width="0.7" /><path d="M345.4 901.7 L355.4 892.5" fill="none" stroke="#1a1a1a" stroke-width="1.4" /><path d="M348.9 902.1 L358.9 892.9" fill="none" stroke="#1a1a1a" stroke-width="0.6" /><path d="M359.5 906.5 L369.5 897.3" fill="none" stroke="#1a1a1a" stroke-width="1.4" /><path d="M363 906.9 L373 897.7" fill="none" stroke="#1a1a1a" stroke-width="0.6" /><path d="M334.2 892.5 L377.6 908.6" fill="none" stroke="#1a1a1a" stroke-width="1.2" /><path d="M335.2 890.1 L378.1 906.2" fill="none" stroke="#1a1a1a" stroke-width="0.5" /><path d="M409.6 898 L410.8 935" fill="none" stroke="#1a1a1a" stroke-width="0.6" /><path d="M412.5 899 L413.5 936" fill="none" stroke="#1a1a1a" stroke-width="0.6" /><path d="M465 900.4 L466.4 937.4" fill="none" stroke="#1a1a1a" stroke-width="0.6" /><path d="M470 900.4 L470 937" fill="none" stroke="#1a1a1a" stroke-width="0.6" /><path d="M409.6 898 L416 893 L436.8 885.6" fill="none" stroke="#1a1a1a" stroke-width="0.6" /><path d="M409.6 898 L430 903 L458 902 L468.8 898" fill="none" stroke="#1a1a1a" stroke-width="0.6" /><circle cx="408" cy="897" r="1.5" fill="none" stroke="#1a1a1a" stroke-width="0.5"/><path d="M380 924 L410 934" fill="none" stroke="#1a1a1a" stroke-width="0.6" /><path d="M380 915 L410 925" fill="none" stroke="#1a1a1a" stroke-width="0.6" /><path d="M393 905 L410 911" fill="none" stroke="#1a1a1a" stroke-width="0.6" /><path d="M287.5 891.8 L400 935" fill="none" stroke="#1a1a1a" stroke-width="0.7" /><path d="M287.5 896.7 L400 939.9" fill="none" stroke="#1a1a1a" stroke-width="0.6" /><path d="M287.5 891.8 L287.5 896.7" fill="none" stroke="#1a1a1a" stroke-width="0.6" /><path d="M300 902 L395 939" fill="none" stroke="#1a1a1a" stroke-width="0.6" /><path d="M258 868 L264 870 L248 910 L242 908 Z" fill="#fff" stroke="#1a1a1a" stroke-width="0.6" /><path d="M261 869 L245 909" fill="none" stroke="#1a1a1a" stroke-width="0.6" /><path d="M218 915 L232 906 L262 907 L270 912 L268 920 L232 926 L220 923 Z" fill="#fff" stroke="#1a1a1a" stroke-width="0.6" /><path d="M232 906 L236 912 L266 912" fill="none" stroke="#1a1a1a" stroke-width="0.6" /><path d="M236 912 L232 926" fill="none" stroke="#1a1a1a" stroke-width="0.6" /><circle cx="246" cy="910" r="1.6" fill="none" stroke="#000" stroke-width="0.6"/><circle cx="266" cy="911" r="1.6" fill="none" stroke="#000" stroke-width="0.6"/><circle cx="232" cy="917" r="0.5" fill="none" stroke="#1a1a1a" stroke-width="0.4"/><path d="M262 907 L290 900 L300 902 L296 912 L270 916 Z" fill="#fff" stroke="#1a1a1a" stroke-width="0.6" /><path d="M262 897 L275 892 L286 888" fill="none" stroke="#1a1a1a" stroke-width="0.6" /><circle cx="261" cy="896" r="1.6" fill="#fff" stroke="#1a1a1a" stroke-width="0.6"/><circle cx="261" cy="896" r="0.7" fill="#000" stroke="#000" stroke-width="0.5"/><circle cx="276" cy="891" r="1.6" fill="#fff" stroke="#1a1a1a" stroke-width="0.6"/><circle cx="276" cy="891" r="0.7" fill="#000" stroke="#000" stroke-width="0.5"/><circle cx="287" cy="888" r="1.6" fill="#fff" stroke="#1a1a1a" stroke-width="0.6"/><circle cx="287" cy="888" r="0.7" fill="#000" stroke="#000" stroke-width="0.5"/><path d="M290 900 Q296 892 312 886" fill="none" stroke="#1a1a1a" stroke-width="0.5" />
</g>
<g id="p17">
<path d="M26.2 850 L30 851 L45 838 L58.8 826.2 L61 825 L106.2 842.5 L105 856 L118.8 847.5 L165 863.8 L169 869 L170 874 L167 879 L163 881 L160 888.8 L156 892 L150 893.8 L140 892 L110 886 L72.5 878.8 L60 873 L45 862.5 Z" fill="#fff" stroke="#000" stroke-width="1.5" /><path d="M57 828.5 L104 846" fill="none" stroke="#000" stroke-width="0.9" /><path d="M60 830 L80 837.5" fill="none" stroke="#000" stroke-width="0.6" /><path d="M117 850 L164 866.5" fill="none" stroke="#000" stroke-width="0.9" /><path d="M128 857 L158 867" fill="none" stroke="#000" stroke-width="0.6" /><path d="M105 856 Q92 862 84 870 Q80 876 82 880" fill="none" stroke="#000" stroke-width="1.1" /><path d="M101 852 Q88 860 80 872" fill="none" stroke="#555" stroke-width="0.6" /><path d="M88 868 L98 862" fill="none" stroke="#000" stroke-width="0.6" /><path d="M90 870 L100 865" fill="none" stroke="#000" stroke-width="0.6" /><path d="M92 872 L101 868" fill="none" stroke="#000" stroke-width="0.6" /><path d="M86 872 L95 868" fill="none" stroke="#000" stroke-width="0.6" /><path d="M27 850 L28.5 848 L31 849 L30 851 Z" fill="#fff" stroke="#000" stroke-width="0.9" /><path d="M79 829 L81 822 L88 824 L90 835 L85 837.5 L83 832 Z" fill="#fff" stroke="#000" stroke-width="1.2" /><path d="M79 826 Q80 820 86 822" fill="none" stroke="#000" stroke-width="1.2" /><path d="M82 829 L88 831" fill="none" stroke="#000" stroke-width="0.7" /><path d="M135 853 L137 844 L142 842 L146 845 L146 857 L141 858 Z" fill="#fff" stroke="#000" stroke-width="1.2" /><circle cx="141.5" cy="846.5" r="1.1" fill="none" stroke="#000" stroke-width="0.8"/><path d="M137 850 L146 852.5" fill="none" stroke="#000" stroke-width="0.7" /><path d="M167 879 Q163 884 160 888.75" fill="none" stroke="#000" stroke-width="0.8" /><path d="M152 892.5 L158 889.5 L158 893 Z" fill="#fff" stroke="#000" stroke-width="0.8" /><path d="M140 892 L146 891" fill="none" stroke="#000" stroke-width="2" /><path d="M106.2 816.2 L88.8 823.8" fill="none" stroke="#000" stroke-width="0.7" />
</g>
<g id="duct">
<path d="M100.4 573.2 L146.5 578.8 L161.5 577 L220 597.6 L266 620 L300 640 L340 661 L315 667.5 L300 672 L288.8 698.8 L270 700 L220 691.6 L170.9 678.4 L135.2 661.5 L107 642.7 L100.4 637.1 L95.7 630.5 L84.4 625.8 L92 620.2 L98.5 608.9 L90 583.5 L98.5 581.6 Z" fill="#fff" stroke="#fff" stroke-width="0.1" /><path d="M146.5 578.8 L100.4 573.2 L98.5 581.6 L90 583.5 L98.5 608.9 L92 620.2 L84.4 625.8" fill="none" stroke="#000" stroke-width="1.6" /><path d="M104 574.5 L146 580" fill="none" stroke="#000" stroke-width="2.4" /><path d="M102.3 583.5 L110.8 616.4" fill="none" stroke="#000" stroke-width="0.8" /><path d="M98.5 581.6 L102.3 583.5" fill="none" stroke="#000" stroke-width="0.8" /><path d="M106 584 L114 614" fill="none" stroke="#000" stroke-width="0.6" /><path d="M95.7 630.5 L97.5 634 L100.4 634.5 L101 638.5 L107 642.7 L135.2 661.5 L170.9 678.4 L220 691.6 L270 700 L288.8 698.8" fill="none" stroke="#000" stroke-width="1.8" /><path d="M107 641 L135.2 659.8 L170.9 676.7 L220 689.9 L268 698" fill="none" stroke="#000" stroke-width="0.6" /><path d="M105.5 640 L108.5 637.5 L112 638 L109.5 642.5 L106.5 643 Z" fill="#fff" stroke="#000" stroke-width="1.1" /><path d="M134 659.5 L137 657 L140.5 657.5 L138 662 L135 662.5 Z" fill="#fff" stroke="#000" stroke-width="1.1" /><path d="M169 676.5 L172 674 L175.5 674.5 L173 679 L170 679.5 Z" fill="#fff" stroke="#000" stroke-width="1.1" /><path d="M217.5 689.5 L220.5 687 L224 687.5 L221.5 692 L218.5 692.5 Z" fill="#fff" stroke="#000" stroke-width="1.1" /><path d="M268 698 L271 695.5 L274.5 696 L272 700.5 L269 701 Z" fill="#fff" stroke="#000" stroke-width="1.1" /><path d="M174 674 L186 667 L194 668.5 L183 676 Z" fill="#fff" stroke="#000" stroke-width="0.8" /><ellipse cx="179" cy="672.5" rx="2.6" ry="1.4" transform="rotate(-25 179 672.5)" fill="none" stroke="#000" stroke-width="0.8"/><path d="M186 624 L159.6 634.3 L169 642.7 L174.7 641.8 L173 639.5 L188 644.5 L250 670 L285 684" fill="none" stroke="#000" stroke-width="1.2" /><path d="M186 624 L262 652" fill="none" stroke="#000" stroke-width="1.2" /><path d="M250 670 L246 676 L255 680 L259 674" fill="none" stroke="#000" stroke-width="1" /><path d="M235 690 L238 683 L262 690 L268 684 L280 688" fill="none" stroke="#000" stroke-width="0.9" /><circle cx="256" cy="688" r="0.8" fill="none" stroke="#000" stroke-width="0.8"/><path d="M86 626 L92 624 L110 617 L120 617" fill="none" stroke="#000" stroke-width="0.8" /><path d="M113 621 L115 616 L121 615 L124 619 L122 625 L116 626 Z" fill="#fff" stroke="#000" stroke-width="0.9" /><ellipse cx="123" cy="620" rx="2" ry="3.4" transform="rotate(10 123 620)" fill="none" stroke="#000" stroke-width="0.8"/><path d="M124 617 L150 610" fill="none" stroke="#000" stroke-width="0.7" /><path d="M124 623 L152 615" fill="none" stroke="#000" stroke-width="0.7" /><path d="M128 621 L156 612" fill="none" stroke="#444" stroke-width="1.6" /><path d="M150 610 L160 606 L172 610 L165 617 L152 615" fill="none" stroke="#000" stroke-width="0.7" /><path d="M97 626 L104 628 L112 626" fill="none" stroke="#000" stroke-width="1.4" /><path d="M64.7 629.6 L64.7 639.9 L159.6 602.3 L160.6 620.2" fill="none" stroke="#000" stroke-width="0.8" /><path d="M67.5 600.4 L95.7 610.8" fill="none" stroke="#000" stroke-width="0.7" /><path d="M149.5 585 L150.5 622" fill="none" stroke="#444" stroke-width="0.7" /><path d="M151.5 585 L152.5 622" fill="none" stroke="#444" stroke-width="0.7" /><path d="M303.3 538.5 L310.8 548.9 L318.4 565.8 L329.6 592.1 L340.9 614.7 L350.3 635.4 L359.7 648.5 L357.8 656 L340.9 661.7 L335 667 L322.1 657.9 L312.7 665.4 L305.2 661.7 L300 672 L290 668 L266 640 L265.7 597.8 L270.4 582.7 L286.4 554.5 Z" fill="#fff" stroke="#fff" stroke-width="0.1" /><path d="M303.3 538.5 L310.8 548.9 L318.4 565.8 L329.6 592.1 L340.9 614.7 L350.3 635.4 L359.7 648.5 L357.8 656 L340.9 661.7 L335 667 L322.1 657.9 L312.7 665.4 L305.2 661.7" fill="none" stroke="#000" stroke-width="1.9" /><path d="M293.9 575.2 L324 579.9 L318.4 565.8" fill="none" stroke="#000" stroke-width="1.5" /><path d="M291.9 575 L313.7 554.6" fill="none" stroke="#000" stroke-width="1.4" /><path d="M297 577 L314 561 L320 576" fill="none" stroke="#000" stroke-width="0.8" /><path d="M290.2 582.7 L293.9 575.2 L308 556" fill="none" stroke="#000" stroke-width="1" /><path d="M296 583 L326 585" fill="none" stroke="#000" stroke-width="0.8" /><path d="M298 584 L340 655" fill="none" stroke="#000" stroke-width="1.3" /><path d="M306 585 L346 650" fill="none" stroke="#000" stroke-width="0.7" /><path d="M312 584 L352 643" fill="none" stroke="#000" stroke-width="0.7" /><path d="M320 584 L356 640" fill="none" stroke="#000" stroke-width="1.2" /><path d="M336 642 L354 636" fill="none" stroke="#000" stroke-width="0.8" /><path d="M332 650 L357 644" fill="none" stroke="#000" stroke-width="0.8" /><path d="M311 605 L315 611" fill="none" stroke="#333" stroke-width="1.6" /><path d="M320 620 L324 626" fill="none" stroke="#333" stroke-width="1.6" /><path d="M329 635 L333 641" fill="none" stroke="#333" stroke-width="1.6" /><path d="M284.6 598.3 L291.9 596.1 L296.2 598.3 L286 608.5 L288.2 621.6 L297.7 639.1 L305 650 L310.8 666.8" fill="none" stroke="#000" stroke-width="1.7" /><path d="M286.4 601.5 L284 606 L286 640 L295 655 L300 672" fill="none" stroke="#000" stroke-width="1.1" /><path d="M291 632 L286 640" fill="none" stroke="#000" stroke-width="0.7" /><path d="M295 655 L308 648" fill="none" stroke="#000" stroke-width="0.7" /><path d="M315.2 601.2 L326.9 597.6 L341.4 606.3 L328.3 610 Z" fill="#fff" stroke="#000" stroke-width="1.6" /><clipPath id="c24"><polygon points="315.2,601.2 326.9,597.6 341.4,606.3 328.3,610"/></clipPath><path d="M340 583.6 L348.5 615.5 M338.5 584 L347.1 615.8 M337.1 584.4 L345.6 616.2 M335.6 584.8 L344.2 616.6 M334.2 585.2 L342.7 617 M332.7 585.5 L341.3 617.4 M331.3 585.9 L339.8 617.8 M329.8 586.3 L338.4 618.2 M328.4 586.7 L336.9 618.6 M326.9 587.1 L335.5 619 M325.5 587.5 L334 619.3 M324 587.9 L332.6 619.7 M322.6 588.3 L331.1 620.1 M321.1 588.6 L329.7 620.5 M319.7 589 L328.2 620.9 M318.2 589.4 L326.8 621.3 M316.8 589.8 L325.3 621.7 M315.3 590.2 L323.9 622.1 M313.9 590.6 L322.4 622.4 M312.4 591 L321 622.8 M311 591.4 L319.5 623.2 M309.5 591.8 L318.1 623.6 M308.1 592.1 L316.6 624 " clip-path="url(#c24)" fill="none" stroke="#000" stroke-width="0.9" /><path d="M317 604 L328.3 612.5 L341.4 608.5" fill="none" stroke="#000" stroke-width="1.8" /><path d="M318.1 611.4 L328.3 612.5 L340 609.5 L342.9 614.3 L331.2 620.2 L322.5 618.7 Z" fill="#fff" stroke="#000" stroke-width="1.4" /><path d="M322.5 618.7 L331.2 620.2 L342.9 615.5 L335.6 624.5 L328 625 Z" fill="#fff" stroke="#000" stroke-width="1.5" /><path d="M162.6 486 L230 511.3 L303.3 538.5 L295.8 543.2 L284.5 551.7 L286.4 554.5 L270.4 582.7 L266 577.2 L160.8 539.6 L142.9 534.9 L124.1 532 L123.2 526.4 L128.8 518.9 L146.7 496.3 L160.8 491.6 Z" fill="#fff" stroke="#fff" stroke-width="0.1" /><path d="M162.6 486 L230 511.3 L303.3 538.5" fill="none" stroke="#000" stroke-width="2.2" /><path d="M162.6 486 L160.8 491.6 L146.7 496.3 L128.8 518.9 L123.2 526.4 L124.1 532 L142.9 534.9" fill="none" stroke="#000" stroke-width="1.8" /><path d="M160.8 491.6 L196 504" fill="none" stroke="#000" stroke-width="0.9" /><path d="M146.7 496.3 L141 512 L146.7 524.5" fill="none" stroke="#000" stroke-width="0.8" /><path d="M141 512 L156.1 506.7" fill="none" stroke="#000" stroke-width="1" /><path d="M156.1 506.7 L230 533 L286.4 554.5" fill="none" stroke="#000" stroke-width="1.6" /><path d="M157 510.4 L230 537 L284 557.5" fill="none" stroke="#000" stroke-width="1.2" /><clipPath id="c25"><polygon points="156.1,506.7 286.4,554.5 284,557.5 157,510.4"/></clipPath><path d="M264.3 439.9 L313.5 575.1 M262.8 440.4 L312 575.6 M261.3 441 L310.5 576.2 M259.8 441.5 L309 576.7 M258.3 442.1 L307.5 577.3 M256.8 442.6 L306 577.8 M255.3 443.2 L304.5 578.3 M253.8 443.7 L303 578.9 M252.3 444.3 L301.5 579.4 M250.8 444.8 L300 580 M249.3 445.4 L298.5 580.5 M247.8 445.9 L297 581.1 M246.3 446.5 L295.5 581.6 M244.8 447 L294 582.2 M243.3 447.5 L292.5 582.7 M241.8 448.1 L291 583.3 M240.3 448.6 L289.5 583.8 M238.7 449.2 L287.9 584.4 M237.2 449.7 L286.4 584.9 M235.7 450.3 L284.9 585.5 M234.2 450.8 L283.4 586 M232.7 451.4 L281.9 586.6 M231.2 451.9 L280.4 587.1 M229.7 452.5 L278.9 587.6 M228.2 453 L277.4 588.2 M226.7 453.6 L275.9 588.7 M225.2 454.1 L274.4 589.3 M223.7 454.7 L272.9 589.8 M222.2 455.2 L271.4 590.4 M220.7 455.8 L269.9 590.9 M219.2 456.3 L268.4 591.5 M217.7 456.9 L266.9 592 M216.2 457.4 L265.4 592.6 M214.7 457.9 L263.9 593.1 M213.2 458.5 L262.4 593.7 M211.7 459 L260.9 594.2 M210.2 459.6 L259.4 594.8 M208.7 460.1 L257.9 595.3 M207.2 460.7 L256.4 595.9 M205.7 461.2 L254.9 596.4 M204.2 461.8 L253.4 597 M202.7 462.3 L251.9 597.5 M201.2 462.9 L250.4 598 M199.7 463.4 L248.9 598.6 M198.2 464 L247.4 599.1 M196.6 464.5 L245.9 599.7 M195.1 465.1 L244.3 600.2 M193.6 465.6 L242.8 600.8 M192.1 466.2 L241.3 601.3 M190.6 466.7 L239.8 601.9 M189.1 467.2 L238.3 602.4 M187.6 467.8 L236.8 603 M186.1 468.3 L235.3 603.5 M184.6 468.9 L233.8 604.1 M183.1 469.4 L232.3 604.6 M181.6 470 L230.8 605.2 M180.1 470.5 L229.3 605.7 M178.6 471.1 L227.8 606.3 M177.1 471.6 L226.3 606.8 M175.6 472.2 L224.8 607.3 M174.1 472.7 L223.3 607.9 M172.6 473.3 L221.8 608.4 M171.1 473.8 L220.3 609 M169.6 474.4 L218.8 609.5 M168.1 474.9 L217.3 610.1 M166.6 475.5 L215.8 610.6 M165.1 476 L214.3 611.2 M163.6 476.6 L212.8 611.7 M162.1 477.1 L211.3 612.3 M160.6 477.6 L209.8 612.8 M159.1 478.2 L208.3 613.4 M157.6 478.7 L206.8 613.9 M156.1 479.3 L205.3 614.5 M154.6 479.8 L203.8 615 M153 480.4 L202.2 615.6 M151.5 480.9 L200.7 616.1 M150 481.5 L199.2 616.7 M148.5 482 L197.7 617.2 M147 482.6 L196.2 617.7 M145.5 483.1 L194.7 618.3 M144 483.7 L193.2 618.8 M142.5 484.2 L191.7 619.4 M141 484.8 L190.2 619.9 M139.5 485.3 L188.7 620.5 M138 485.9 L187.2 621 M136.5 486.4 L185.7 621.6 M135 486.9 L184.2 622.1 M133.5 487.5 L182.7 622.7 M132 488 L181.2 623.2 M130.5 488.6 L179.7 623.8 M129 489.1 L178.2 624.3 " clip-path="url(#c25)" fill="none" stroke="#000" stroke-width="0.6" /><path d="M160 517 L272 558" fill="none" stroke="#000" stroke-width="0.7" /><path d="M303.3 538.5 L295.8 543.2 L284.5 551.7 L286.4 554.5" fill="none" stroke="#000" stroke-width="1.2" /><path d="M295.8 543.2 L278 537 L274 541 L281 544" fill="none" stroke="#000" stroke-width="0.8" /><path d="M196.5 500 L202.5 502.5 L199 511.5 L193 509 Z" fill="#fff" stroke="#000" stroke-width="1.3" /><path d="M206 502.5 L212 505 L208.5 514 L202.5 511.5 Z" fill="#fff" stroke="#000" stroke-width="1.3" /><path d="M254.5 521.5 L260.5 524 L257 533 L251 530.5 Z" fill="#fff" stroke="#000" stroke-width="1.3" /><path d="M264 524.5 L270 527 L266.5 536 L260.5 533.5 Z" fill="#fff" stroke="#000" stroke-width="1.3" /><path d="M146.7 524.5 L155.1 517 L157 533.9 L146.7 535.8 Z" fill="#fff" stroke="#000" stroke-width="1.2" /><path d="M149 526 L153.5 522 L154.5 532 L149 533" fill="none" stroke="#000" stroke-width="0.7" /><path d="M155.1 517 L160 517" fill="none" stroke="#000" stroke-width="1" /><path d="M157 533.9 L160.8 539.6 L266 577.2 L270.4 582.7 L290.2 582.7" fill="none" stroke="#000" stroke-width="2" /><path d="M165 528 L162 538" fill="none" stroke="#000" stroke-width="0.7" /><path d="M169 524 L165 540" fill="none" stroke="#000" stroke-width="0.6" /><path d="M123.2 526.4 L139 520.5 L143 523.5 L131 532.5 L124.1 532 Z" fill="#fff" stroke="#000" stroke-width="1.2" /><clipPath id="c26"><polygon points="123.2,526.4 139,520.5 143,523.5 131,532.5 124.1,532"/></clipPath><path d="M115.4 517.6 L140.9 508.3 M115.8 518.7 L141.3 509.5 M116.2 519.9 L141.8 510.6 M116.6 521 L142.2 511.7 M117.1 522.1 L142.6 512.8 M117.5 523.2 L143 514 M117.9 524.4 L143.4 515.1 M118.3 525.5 L143.8 516.2 M118.7 526.6 L144.2 517.3 M119.1 527.8 L144.6 518.5 M119.5 528.9 L145 519.6 M119.9 530 L145.4 520.7 M120.3 531.1 L145.9 521.9 M120.8 532.3 L146.3 523 M121.2 533.4 L146.7 524.1 M121.6 534.5 L147.1 525.2 M122 535.7 L147.5 526.4 M122.4 536.8 L147.9 527.5 M122.8 537.9 L148.3 528.6 M123.2 539 L148.7 529.8 M123.6 540.2 L149.1 530.9 M124 541.3 L149.6 532 M124.4 542.4 L150 533.1 M124.9 543.5 L150.4 534.3 M125.3 544.7 L150.8 535.4 " clip-path="url(#c26)" fill="none" stroke="#000" stroke-width="0.8" /><path d="M128.8 518.9 L141 515" fill="none" stroke="#000" stroke-width="0.9" /><path d="M194.6 554.6 L213 549.5 L219 541.5 L227 543 L221 551 L200 559 Z" fill="#fff" stroke="#000" stroke-width="1.2" /><clipPath id="c27"><polygon points="194.6,554.6 213,549.5 219,541.5 227,543 221,551 200,559"/></clipPath><path d="M184.2 536.9 L222.6 523 M184.6 538.1 L223 524.1 M185.1 539.2 L223.4 525.2 M185.5 540.3 L223.8 526.4 M185.9 541.4 L224.2 527.5 M186.3 542.6 L224.6 528.6 M186.7 543.7 L225.1 529.7 M187.1 544.8 L225.5 530.9 M187.5 546 L225.9 532 M187.9 547.1 L226.3 533.1 M188.3 548.2 L226.7 534.2 M188.7 549.3 L227.1 535.4 M189.2 550.5 L227.5 536.5 M189.6 551.6 L227.9 537.6 M190 552.7 L228.3 538.8 M190.4 553.8 L228.7 539.9 M190.8 555 L229.2 541 M191.2 556.1 L229.6 542.1 M191.6 557.2 L230 543.3 M192 558.4 L230.4 544.4 M192.4 559.5 L230.8 545.5 M192.9 560.6 L231.2 546.7 M193.3 561.7 L231.6 547.8 M193.7 562.9 L232 548.9 M194.1 564 L232.4 550 M194.5 565.1 L232.9 551.2 M194.9 566.3 L233.3 552.3 M195.3 567.4 L233.7 553.4 M195.7 568.5 L234.1 554.5 M196.1 569.6 L234.5 555.7 M196.5 570.8 L234.9 556.8 M197 571.9 L235.3 557.9 M197.4 573 L235.7 559.1 M197.8 574.1 L236.1 560.2 M198.2 575.3 L236.5 561.3 M198.6 576.4 L237 562.4 M199 577.5 L237.4 563.6 " clip-path="url(#c27)" fill="none" stroke="#000" stroke-width="0.8" /><path d="M213 549.5 Q217 546 216 540" fill="none" stroke="#000" stroke-width="1.1" /><path d="M270 582 L278 574 L287 574.5 L283 581 Z" fill="#fff" stroke="#000" stroke-width="1.2" /><clipPath id="c28"><polygon points="270,582 278,574 287,574.5 283,581"/></clipPath><path d="M283.3 562.1 L294.7 581.8 M282.3 562.6 L293.7 582.4 M281.4 563.2 L292.8 582.9 M280.4 563.7 L291.8 583.5 M279.5 564.3 L290.9 584 M278.5 564.8 L289.9 584.6 M277.6 565.4 L289 585.1 M276.6 565.9 L288 585.7 M275.7 566.5 L287.1 586.2 M274.7 567 L286.1 586.8 M273.8 567.6 L285.1 587.3 M272.8 568.1 L284.2 587.9 M271.9 568.7 L283.2 588.4 M270.9 569.2 L282.3 589 M269.9 569.8 L281.3 589.5 M269 570.3 L280.4 590.1 M268 570.9 L279.4 590.6 M267.1 571.4 L278.5 591.2 M266.1 572 L277.5 591.7 M265.2 572.5 L276.6 592.3 M264.2 573.1 L275.6 592.8 M263.3 573.6 L274.7 593.4 M262.3 574.2 L273.7 593.9 " clip-path="url(#c28)" fill="none" stroke="#000" stroke-width="0.8" /><path d="M272 574 L277 571 L287 574.5 L278 574 Z" fill="#fff" stroke="#000" stroke-width="0.9" /><path d="M151.4 538.6 L149 556 L152 566 L153.2 575.3" fill="none" stroke="#000" stroke-width="1.1" /><path d="M156 541 L153.5 556 L156 566 L157 577" fill="none" stroke="#000" stroke-width="0.9" /><path d="M104.5 545.5 L143 561" fill="none" stroke="#000" stroke-width="0.7" /><path d="M143 561 Q147 553 150 548 M146 574 Q149 566 147 558" fill="none" stroke="#000" stroke-width="0.9" /><path d="M162 541 L170 543.5 L196 590 L188 588 Z" fill="#fff" stroke="#000" stroke-width="1" /><path d="M170 543.5 L196 590" fill="none" stroke="#000" stroke-width="2.8" /><path d="M165 549 L187 589" fill="none" stroke="#000" stroke-width="0.7" /><path d="M173 547 L181 548 L178 556" fill="none" stroke="#000" stroke-width="0.9" /><path d="M211.2 559.5 L223.2 563.7 L223.2 597.8 L214.6 596 Z" fill="#fff" stroke="#000" stroke-width="1.4" /><path d="M217 561 L216 575 L219 597" fill="none" stroke="#000" stroke-width="0.7" /><path d="M144.8 582.5 L153 578.5 L161.8 577.4 L204 591.5 L223.2 597.8 L226.5 602 L230 609.7 L265.8 620 L265.8 626 L230 616.6 L226 610 L216.3 604.6 L200 600 L161.8 589.3 L152 586.5 L144.8 582.5 Z" fill="#fff" stroke="#fff" stroke-width="0.1" /><path d="M144.8 582.5 L153 578.5 L161.8 577.4 L204 591.5 L223.2 597.8 L226.5 602 L230 609.7 L265.8 620" fill="none" stroke="#000" stroke-width="1.9" /><path d="M144.8 582.5 L152 586.5 L161.8 589.3 L200 600 L216.3 604.6 L226 610 L230 616.6 L265.8 626" fill="none" stroke="#000" stroke-width="1.5" /><circle cx="156" cy="583" r="0.8" fill="none" stroke="#000" stroke-width="0.7"/><path d="M166.4 592.5 L174 612 L180 622" fill="none" stroke="#000" stroke-width="1.1" /><path d="M175 596 L184 618" fill="none" stroke="#000" stroke-width="0.8" /><path d="M187 600 L202.1 612.9 L187 620 L180 622" fill="none" stroke="#000" stroke-width="1.1" /><path d="M189 618.3 L270.9 647.2" fill="none" stroke="#000" stroke-width="2.4" /><path d="M196 627 L266 652" fill="none" stroke="#000" stroke-width="1.2" /><path d="M202.1 612.9 L266 636" fill="none" stroke="#000" stroke-width="1" /><path d="M265.7 576.1 L270.4 582.7 L266 597.8 L266 620 L262 628" fill="none" stroke="#000" stroke-width="1.8" /><path d="M270.4 582.7 L271 640 L266 668 L270 686 L288 690 L289 698" fill="none" stroke="#000" stroke-width="1.2" /><path d="M276 583 L277 640 L282 668" fill="none" stroke="#000" stroke-width="0.8" /><path d="M262 628 L263 660 L258 684" fill="none" stroke="#000" stroke-width="1" /><path d="M222.8 597.8 L262 612" fill="none" stroke="#000" stroke-width="0.8" /><path d="M245 612.5 L245 618" fill="none" stroke="#000" stroke-width="0.8" />
</g>
<g id="grille">
<path d="M285 486.2 L406.2 527.5 L433.8 581.2 L311.2 535 Z" fill="#fff" stroke="#000" stroke-width="1.3" /><clipPath id="c29"><polygon points="285,486.2 406.2,527.5 433.8,581.2 311.2,535"/></clipPath><path d="M303.5 417.8 L474.4 475.9 M302.9 419.5 L473.8 477.6 M302.3 421.2 L473.2 479.3 M301.8 422.9 L472.6 481 M301.2 424.6 L472.1 482.7 M300.6 426.3 L471.5 484.4 M300 428 L470.9 486.1 M299.4 429.7 L470.3 487.8 M298.9 431.4 L469.7 489.5 M298.3 433.1 L469.2 491.2 M297.7 434.8 L468.6 492.9 M297.1 436.5 L468 494.7 M296.5 438.2 L467.4 496.4 M296 439.9 L466.8 498.1 M295.4 441.6 L466.3 499.8 M294.8 443.3 L465.7 501.5 M294.2 445 L465.1 503.2 M293.6 446.7 L464.5 504.9 M293.1 448.4 L463.9 506.6 M292.5 450.2 L463.4 508.3 M291.9 451.9 L462.8 510 M291.3 453.6 L462.2 511.7 M290.7 455.3 L461.6 513.4 M290.2 457 L461 515.1 M289.6 458.7 L460.5 516.8 M289 460.4 L459.9 518.5 M288.4 462.1 L459.3 520.2 M287.8 463.8 L458.7 521.9 M287.3 465.5 L458.1 523.6 M286.7 467.2 L457.6 525.3 M286.1 468.9 L457 527 M285.5 470.6 L456.4 528.7 M285 472.3 L455.8 530.4 M284.4 474 L455.3 532.1 M283.8 475.7 L454.7 533.8 M283.2 477.4 L454.1 535.6 M282.6 479.1 L453.5 537.3 M282.1 480.8 L452.9 539 M281.5 482.5 L452.4 540.7 M280.9 484.2 L451.8 542.4 M280.3 485.9 L451.2 544.1 M279.7 487.6 L450.6 545.8 M279.2 489.3 L450 547.5 M278.6 491.1 L449.5 549.2 M278 492.8 L448.9 550.9 M277.4 494.5 L448.3 552.6 M276.8 496.2 L447.7 554.3 M276.3 497.9 L447.1 556 M275.7 499.6 L446.6 557.7 M275.1 501.3 L446 559.4 M274.5 503 L445.4 561.1 M273.9 504.7 L444.8 562.8 M273.4 506.4 L444.2 564.5 M272.8 508.1 L443.7 566.2 M272.2 509.8 L443.1 567.9 M271.6 511.5 L442.5 569.6 M271 513.2 L441.9 571.3 M270.5 514.9 L441.3 573 M269.9 516.6 L440.8 574.7 M269.3 518.3 L440.2 576.4 M268.7 520 L439.6 578.2 M268.1 521.7 L439 579.9 M267.6 523.4 L438.4 581.6 M267 525.1 L437.9 583.3 M266.4 526.8 L437.3 585 M265.8 528.5 L436.7 586.7 M265.2 530.2 L436.1 588.4 M264.7 531.9 L435.5 590.1 M264.1 533.7 L435 591.8 M263.5 535.4 L434.4 593.5 M262.9 537.1 L433.8 595.2 M262.3 538.8 L433.2 596.9 M261.8 540.5 L432.6 598.6 M261.2 542.2 L432.1 600.3 M260.6 543.9 L431.5 602 M260 545.6 L430.9 603.7 M259.4 547.3 L430.3 605.4 M258.9 549 L429.7 607.1 M258.3 550.7 L429.2 608.8 M257.7 552.4 L428.6 610.5 M257.1 554.1 L428 612.2 M256.5 555.8 L427.4 613.9 M256 557.5 L426.8 615.6 M255.4 559.2 L426.3 617.3 M254.8 560.9 L425.7 619.1 M254.2 562.6 L425.1 620.8 M253.6 564.3 L424.5 622.5 M253.1 566 L423.9 624.2 M252.5 567.7 L423.4 625.9 M251.9 569.4 L422.8 627.6 M251.3 571.1 L422.2 629.3 M250.7 572.8 L421.6 631 M250.2 574.6 L421 632.7 M249.6 576.3 L420.5 634.4 M249 578 L419.9 636.1 M248.4 579.7 L419.3 637.8 M247.8 581.4 L418.7 639.5 M247.3 583.1 L418.1 641.2 M246.7 584.8 L417.6 642.9 M246.1 586.5 L417 644.6 M245.5 588.2 L416.4 646.3 M244.9 589.9 L415.8 648 M244.4 591.6 L415.2 649.7 " clip-path="url(#c29)" fill="none" stroke="#000" stroke-width="0.8" /><clipPath id="c30"><polygon points="285,486.2 406.2,527.5 433.8,581.2 311.2,535"/></clipPath><path d="M417.2 416.1 L479.8 585.4 M408.3 419.4 L470.9 588.7 M399.3 422.7 L462 592 M390.4 426 L453.1 595.3 M381.5 429.3 L444.1 598.6 M372.6 432.6 L435.2 601.9 M363.7 435.9 L426.3 605.2 M354.8 439.2 L417.4 608.5 M345.9 442.5 L408.5 611.8 M337 445.8 L399.6 615.1 M328.1 449.1 L390.7 618.4 M319.2 452.4 L381.8 621.7 M310.2 455.7 L372.9 625 M301.3 459 L364 628.3 M292.4 462.3 L355 631.6 M283.5 465.6 L346.1 634.9 M274.6 468.9 L337.2 638.2 M265.7 472.2 L328.3 641.5 M256.8 475.5 L319.4 644.8 M247.9 478.8 L310.5 648.1 M239 482.1 L301.6 651.4 " clip-path="url(#c30)" fill="none" stroke="#fff" stroke-width="3" stroke-opacity="0.45"/><path d="M285 486.2 L406.2 527.5 L433.8 581.2 L311.2 535 Z" fill="none" stroke="#000" stroke-width="1.4" /><path d="M287.5 489.5 L407 530.5" fill="none" stroke="#000" stroke-width="1" /><path d="M288.6 487.5 L289.1 483 L294.6 484.5 L295.1 489.7 Z" fill="#fff" stroke="#000" stroke-width="1.1" /><path d="M290.6 483.5 L291.1 488.2" fill="none" stroke="#000" stroke-width="0.6" /><path d="M329.9 501.5 L330.4 497 L335.9 498.5 L336.4 503.7 Z" fill="#fff" stroke="#000" stroke-width="1.1" /><path d="M331.9 497.5 L332.4 502.2" fill="none" stroke="#000" stroke-width="0.6" /><path d="M371.1 515.5 L371.6 511 L377.1 512.5 L377.6 517.7 Z" fill="#fff" stroke="#000" stroke-width="1.1" /><path d="M373.1 511.5 L373.6 516.2" fill="none" stroke="#000" stroke-width="0.6" /><path d="M397.8 524.6 L398.3 520.1 L403.8 521.6 L404.3 526.8 Z" fill="#fff" stroke="#000" stroke-width="1.1" /><path d="M399.8 520.6 L400.3 525.3" fill="none" stroke="#000" stroke-width="0.6" /><path d="M335.8 544.2 L336.2 546.2 L339.8 547.5 L340.2 545.9" fill="none" stroke="#000" stroke-width="0.9" /><path d="M366.4 555.8 L366.9 557.8 L370.4 559 L370.9 557.4" fill="none" stroke="#000" stroke-width="0.9" /><path d="M397 567.4 L397.5 569.4 L401 570.6 L401.5 569" fill="none" stroke="#000" stroke-width="0.9" /><path d="M423.9 577.5 L424.4 579.5 L427.9 580.8 L428.4 579.1" fill="none" stroke="#000" stroke-width="0.9" /><path d="M414.5 543.6 L416 543.1 L416.7 545.6" fill="none" stroke="#000" stroke-width="0.8" /><path d="M422.8 559.8 L424.2 559.2 L424.9 561.8" fill="none" stroke="#000" stroke-width="0.8" /><path d="M429.6 573.2 L431.1 572.7 L431.8 575.2" fill="none" stroke="#000" stroke-width="0.8" />
</g>
<g id="panel3">
<path d="M308 428 L312 423.5 L445 469 L453.8 475 L478.8 525 L477 531 L470 533.5 L462 531 L459 529.5 L338 488.5 Z" fill="#fff" stroke="#fff" stroke-width="0.1" /><path d="M312 423.5 L445 469.5" fill="none" stroke="#000" stroke-width="2" /><path d="M311.5 426 L444 472" fill="none" stroke="#000" stroke-width="0.8" /><path d="M311 431.5 L440 476.5" fill="none" stroke="#000" stroke-width="0.6" /><path d="M312.5 433.8 L439 478" fill="none" stroke="#000" stroke-width="1.8" /><circle cx="328.5" cy="433.5" r="1" fill="none" stroke="#000" stroke-width="0.6"/><circle cx="427" cy="468.5" r="1" fill="none" stroke="#000" stroke-width="0.6"/><path d="M303 427 L305 425.5 L309 427.5 L308 430 Z" fill="#fff" stroke="#000" stroke-width="0.9" /><ellipse cx="304" cy="427.5" rx="1.4" ry="2" transform="rotate(0 304 427.5)" fill="#fff" stroke="#000" stroke-width="0.9"/><path d="M308 428 L312 423.5 L315 423 L317 424.5" fill="none" stroke="#000" stroke-width="1.2" /><path d="M308 428.5 L336 488" fill="none" stroke="#000" stroke-width="2" /><path d="M312.5 433.8 L339 487" fill="none" stroke="#000" stroke-width="1.6" /><path d="M310.5 431 L337.5 487.5" fill="none" stroke="#000" stroke-width="0.6" stroke-dasharray="1 1.4"/><path d="M336 488 L339 487 L340 489 L459 529.5" fill="none" stroke="#000" stroke-width="1.6" /><path d="M339 490.5 L457 531" fill="none" stroke="#000" stroke-width="0.6" /><path d="M442.5 471 L445 468.5 L449 468 L453.8 472 L478.8 524 L478 529 L473 533 L468 533.5 L463.5 531 L438.5 478.5 Z" fill="#fff" stroke="#000" stroke-width="1.9" /><path d="M441 474.5 L466 530" fill="none" stroke="#000" stroke-width="0.8" /><path d="M443 473.5 L451 473 L456 480 L449 482" fill="none" stroke="#000" stroke-width="0.8" /><path d="M446 476 L452 475.5" fill="none" stroke="#000" stroke-width="0.6" /><path d="M447 478 L453 477.5" fill="none" stroke="#000" stroke-width="0.6" /><path d="M454 487 L457 485 L460 490 L457 492 Z" fill="#555" stroke="#000" stroke-width="0.9" /><ellipse cx="458" cy="484" rx="1.5" ry="2" transform="rotate(20 458 484)" fill="none" stroke="#000" stroke-width="0.8"/><circle cx="465" cy="507" r="3" fill="none" stroke="#000" stroke-width="1.2"/><circle cx="468" cy="508" r="2.2" fill="#fff" stroke="#000" stroke-width="1"/><circle cx="468" cy="517" r="3" fill="none" stroke="#000" stroke-width="1.2"/><path d="M466 515 L471 517 L470 521 L465 519 Z" fill="#666" stroke="#000" stroke-width="0.8" />
</g>
<g id="cond">
<path d="M317.5 333.5 L452 381 L460 382.5 L507.5 480 L501 486 L495 480 L478 471.5 L365 431.2 Z" fill="#fff" stroke="#fff" stroke-width="0.1" /><path d="M319 331.5 L450 378.5" fill="none" stroke="#000" stroke-width="1.8" /><path d="M318 333.5 L449 380.5" fill="none" stroke="#000" stroke-width="0.7" /><path d="M317 335.5 L448 382.5" fill="none" stroke="#000" stroke-width="1.5" /><path d="M315.5 336 L364 433" fill="none" stroke="#000" stroke-width="1.7" /><path d="M318.5 337 L366.5 431" fill="none" stroke="#000" stroke-width="0.8" /><path d="M317 336.5 L365 432" fill="none" stroke="#000" stroke-width="0.6" stroke-dasharray="1 1.4"/><path d="M313.5 337 L315 332 L319 331.5 L318 335 Z" fill="#fff" stroke="#000" stroke-width="1" /><ellipse cx="320" cy="332" rx="2" ry="1.4" transform="rotate(0 320 332)" fill="#fff" stroke="#000" stroke-width="1"/><path d="M339 389 L343 388 L345 392 L341 393 Z" fill="#fff" stroke="#000" stroke-width="1" /><path d="M340 402 L347 399 L352 403 L357 416 L352 419 L346 414 Z" fill="#fff" stroke="#000" stroke-width="1.6" /><path d="M344 404 L349 403 L353 414" fill="none" stroke="#000" stroke-width="0.8" /><path d="M350 419 L356 421 L358 417" fill="none" stroke="#000" stroke-width="1.5" /><path d="M364 433 L366.5 431 L495 476.5" fill="none" stroke="#000" stroke-width="1.2" /><path d="M366 433.5 L494 478.5" fill="none" stroke="#000" stroke-width="0.6" /><path d="M447.5 383.8 L452 380 L460 382.5 L507.5 480 L504 485 L498 485.5 L495 480 Z" fill="#fff" stroke="#000" stroke-width="1.3" /><path d="M450 382 L497 481" fill="none" stroke="#000" stroke-width="0.7" /><ellipse cx="454" cy="383.5" rx="4" ry="2.6" transform="rotate(-10 454 383.5)" fill="#fff" stroke="#000" stroke-width="1.1"/><path d="M449 380 L447 377.5 L450 376" fill="none" stroke="#000" stroke-width="0.9" /><path d="M459 393 L463 390 L474 397 L476 402 L472 400 L463 396.5 Z" fill="#fff" stroke="#000" stroke-width="1.2" /><path d="M468 407 L471 406 L474 413 L471 414 Z" fill="#fff" stroke="#333" stroke-width="0.7" /><path d="M495 471 L499 467 L510 472 L513 478 L508 477 L499 473 Z" fill="#fff" stroke="#000" stroke-width="1.2" /><path d="M495 480 Q496 487 501.5 486.5 Q507 486 507.5 480" fill="none" stroke="#000" stroke-width="1.3" /><ellipse cx="501" cy="474" rx="4.5" ry="3" transform="rotate(10 501 474)" fill="none" stroke="#000" stroke-width="1"/>
</g>
<g id="rad">
<path d="M387.6 263.3 L394.6 254.1 L528 301.5 L570 417.5 L565 411 L441.9 367.5 L438.3 369.8 Z" fill="#fff" stroke="#fff" stroke-width="0.1" /><path d="M394.6 254.1 L528 301.5" fill="none" stroke="#000" stroke-width="1.5" /><path d="M393.5 256.3 L526 303.5" fill="none" stroke="#000" stroke-width="0.6" /><path d="M392.5 258.5 L523 305" fill="none" stroke="#000" stroke-width="0.9" /><path d="M391.5 260.5 L520 306.5" fill="none" stroke="#000" stroke-width="0.6" /><path d="M390.4 262.6 L518 308.5" fill="none" stroke="#000" stroke-width="1.4" /><circle cx="434" cy="274" r="0.7" fill="none" stroke="#000" stroke-width="0.6"/><circle cx="479" cy="290" r="0.7" fill="none" stroke="#000" stroke-width="0.6"/><path d="M387.6 263.3 L438.3 369.8" fill="none" stroke="#000" stroke-width="1.5" /><path d="M392.5 264.7 L441.9 366.9" fill="none" stroke="#000" stroke-width="1.3" /><path d="M390 264 L440 368" fill="none" stroke="#000" stroke-width="0.6" stroke-dasharray="1.2 1.2"/><path d="M438.3 369.8 L441.9 366.9" fill="none" stroke="#000" stroke-width="1.3" /><path d="M443.8 367 L565 410.5" fill="none" stroke="#000" stroke-width="1" /><path d="M444.5 368.8 L565 412.5" fill="none" stroke="#000" stroke-width="0.7" /><path d="M387.6 263.3 L385 266 L380 270 L378 276 L381 282 L384 283 L388 292 L391 296 L393 300 L392 303 L395 308 L398 310 L400 314 L403 320 L401 324 L402 330 L406 334 L411 333 L414 330 L418 338 L423 350 L427 358 L432 366 L438.3 369.8" fill="none" stroke="#000" stroke-width="1.5" /><path d="M372 266 L378 259 L386 258 L389 262 L386 270 L382 280 L376 281 L373 276 Z" fill="#fff" stroke="#000" stroke-width="1.3" /><clipPath id="c31"><polygon points="374,266 380,261 387,262 384,272 381,279 376,279"/></clipPath><path d="M386.3 251.5 L399.4 274.2 M385.2 252.2 L398.3 274.8 M384.1 252.8 L397.2 275.5 M383 253.5 L396.1 276.1 M381.8 254.1 L394.9 276.8 M380.7 254.8 L393.8 277.4 M379.6 255.4 L392.7 278.1 M378.5 256.1 L391.6 278.7 M377.3 256.7 L390.4 279.4 M376.2 257.4 L389.3 280 M375.1 258 L388.2 280.7 M373.9 258.7 L387.1 281.3 M372.8 259.3 L385.9 282 M371.7 260 L384.8 282.6 M370.6 260.6 L383.7 283.3 M369.4 261.3 L382.5 283.9 M368.3 261.9 L381.4 284.6 M367.2 262.6 L380.3 285.2 M366.1 263.2 L379.2 285.9 M364.9 263.9 L378 286.5 M363.8 264.5 L376.9 287.2 M362.7 265.2 L375.8 287.8 M361.6 265.8 L374.7 288.5 " clip-path="url(#c31)" fill="none" stroke="#000" stroke-width="0.7" /><path d="M386 255 L389.5 249 L392 250.5 L389 257 Z" fill="#fff" stroke="#000" stroke-width="1.2" /><ellipse cx="390.5" cy="249.5" rx="1.6" ry="1" transform="rotate(20 390.5 249.5)" fill="none" stroke="#000" stroke-width="1"/><path d="M396 253 L399 251 L404 253 L406 258 L402 256 Z" fill="#000" stroke="#000" stroke-width="1" /><path d="M393.7 278.2 L388.7 277.2" fill="none" stroke="#000" stroke-width="1.8" /><path d="M396.7 284.6 L391.7 283.6" fill="none" stroke="#000" stroke-width="1.8" /><path d="M399.8 291 L394.8 290" fill="none" stroke="#000" stroke-width="1.8" /><path d="M402.8 297.4 L397.8 296.4" fill="none" stroke="#000" stroke-width="1.8" /><path d="M409.9 312.3 L404.9 311.3" fill="none" stroke="#000" stroke-width="1.8" /><path d="M413 318.7 L408 317.7" fill="none" stroke="#000" stroke-width="1.8" /><path d="M385.5 268 L398 296" fill="none" stroke="#000" stroke-width="1.2" /><path d="M404 312 L409 322" fill="none" stroke="#000" stroke-width="1.2" /><circle cx="399" cy="304" r="3.3" fill="none" stroke="#000" stroke-width="1.3"/><circle cx="399" cy="304" r="1.6" fill="none" stroke="#000" stroke-width="0.8"/><path d="M401 320 L407 317 L412 322 L413 331 L407 335 L402 331 Z" fill="#fff" stroke="#000" stroke-width="1.3" /><path d="M405 322 L409 321 L410 329" fill="none" stroke="#000" stroke-width="0.8" /><path d="M421.1 335.7 L417.6 333.7" fill="none" stroke="#000" stroke-width="1.7" /><path d="M423.6 341 L420.1 339" fill="none" stroke="#000" stroke-width="1.7" /><path d="M426.1 346.4 L422.6 344.4" fill="none" stroke="#000" stroke-width="1.7" /><path d="M428.7 351.7 L425.2 349.7" fill="none" stroke="#000" stroke-width="1.7" /><path d="M431.2 357 L427.7 355" fill="none" stroke="#000" stroke-width="1.7" /><path d="M413 334 L431 366" fill="none" stroke="#000" stroke-width="1.1" /><path d="M427 358 L431 356 L437 367 L433 368 Z" fill="#777" stroke="#000" stroke-width="1" /><path d="M529.6 300.3 L534 302 L538 307 L546 322 L555 339.4 L563 356 L573.3 380.3 L581 397 L587.4 409.9 L590 417 L586 420 L575 419 L569.1 417 L517.6 312.6 L519 308 L523 303.5 Z" fill="#fff" stroke="#000" stroke-width="1.5" /><path d="M519.5 312 L570.5 416" fill="none" stroke="#000" stroke-width="1.8" /><path d="M523 310 L574.5 414" fill="none" stroke="#000" stroke-width="1" /><path d="M536.5 309 L586 411" fill="none" stroke="#000" stroke-width="0.9" /><path d="M520.6 315.3 Q530.7 314.5 537.8 307.6" fill="none" stroke="#000" stroke-width="2" /><path d="M523.3 320.8 Q533.4 319.9 540.5 313.1" fill="none" stroke="#000" stroke-width="2" /><path d="M526 326.2 Q536 325.4 543.1 318.5" fill="none" stroke="#000" stroke-width="2" /><path d="M528.7 331.7 Q538.7 330.8 545.7 323.9" fill="none" stroke="#000" stroke-width="2" /><path d="M531.3 337.2 Q541.4 336.3 548.4 329.3" fill="none" stroke="#000" stroke-width="2" /><path d="M534 342.7 Q544 341.7 551 334.8" fill="none" stroke="#000" stroke-width="2" /><path d="M536.7 348.1 Q546.7 347.2 553.6 340.2" fill="none" stroke="#000" stroke-width="2" /><path d="M539.4 353.6 Q549.3 352.6 556.2 345.6" fill="none" stroke="#000" stroke-width="2" /><path d="M542.1 359.1 Q552 358 558.9 351" fill="none" stroke="#000" stroke-width="2" /><path d="M544.8 364.5 Q554.6 363.5 561.5 356.4" fill="none" stroke="#000" stroke-width="2" /><path d="M550.1 375.5 Q560 374.4 566.8 367.3" fill="none" stroke="#000" stroke-width="2" /><path d="M552.8 381 Q562.6 379.8 569.4 372.7" fill="none" stroke="#000" stroke-width="2" /><path d="M555.5 386.4 Q565.3 385.3 572 378.1" fill="none" stroke="#000" stroke-width="2" /><path d="M558.2 391.9 Q567.9 390.7 574.7 383.5" fill="none" stroke="#000" stroke-width="2" /><path d="M560.9 397.4 Q570.6 396.2 577.3 389" fill="none" stroke="#000" stroke-width="2" /><path d="M563.6 402.9 Q573.2 401.6 579.9 394.4" fill="none" stroke="#000" stroke-width="2" /><path d="M566.2 408.3 Q575.9 407.1 582.6 399.8" fill="none" stroke="#000" stroke-width="2" /><path d="M568.9 413.8 Q578.6 412.5 585.2 405.2" fill="none" stroke="#000" stroke-width="2" /><path d="M524 305 Q530 301 535 305 L538 311 Q531 309 526 312 Z" fill="none" stroke="#000" stroke-width="1" /><path d="M531 309 L541 330" fill="none" stroke="#000" stroke-width="0.8" /><path d="M538 307 L541 305 L546 304.5 L551 307.5 L551 311 L547 318.5 L543 316 Z" fill="#fff" stroke="#000" stroke-width="1.2" /><path d="M541 305 L544 311 L543 316" fill="none" stroke="#000" stroke-width="0.8" /><path d="M544 311 L551 311" fill="none" stroke="#000" stroke-width="0.8" /><path d="M554 340 L557 338.5 L561 339.5 L563 343 L560 347 L556 346 Z" fill="#fff" stroke="#000" stroke-width="1.2" /><path d="M556 346 L560 355 L566 358 L564 350" fill="none" stroke="#333" stroke-width="0.7" /><path d="M571 374 L574.5 365.5 Q576.5 362.5 580 363.5 L585.5 366.2 Q588 368 586.8 371 L581.5 381.5 L577.5 385.5 Z" fill="#fff" stroke="#000" stroke-width="2" /><path d="M576.5 367 L583 370.2 L579.5 378.5" fill="none" stroke="#000" stroke-width="0.9" /><circle cx="577.8" cy="378.2" r="0.9" fill="none" stroke="#000" stroke-width="0.9"/><path d="M580.5 385 L585.5 380.5 L589 382 L588.5 387.5 L584 391 Z" fill="#fff" stroke="#000" stroke-width="1.6" /><ellipse cx="587.3" cy="384" rx="1.6" ry="2.6" transform="rotate(30 587.3 384)" fill="none" stroke="#000" stroke-width="1.1"/><path d="M584 396 L589 393 L593 397 L593.5 403 L589 408 L585.5 405 Z" fill="#fff" stroke="#000" stroke-width="1.8" /><path d="M587 397.5 L590.5 399.5 L590 404.5" fill="none" stroke="#000" stroke-width="0.8" /><path d="M585 418.5 L589 413.5 L594 414 L594.5 418.5 L590.5 422.5 L586.5 422 Z" fill="#fff" stroke="#000" stroke-width="1.8" /><path d="M588 416 L592 417" fill="none" stroke="#000" stroke-width="1.4" /><ellipse cx="588.3" cy="423" rx="2.2" ry="1.5" transform="rotate(0 588.3 423)" fill="#fff" stroke="#000" stroke-width="1.3"/>
</g>
<g id="fan">
<path d="M494.4 184 L505.7 175.3 L512.3 173.5 L542 183 L546.4 177 L568.7 175.6 L600 196 L626 214.5 L632 222 L648 212 L653 217 L645 226 L655 227 L659 233 L650 240 L660 252 L664 256 L658 262 L672 292 L680 296 L681 304 L676 309 L666 308 L663 312.5 L534.3 266 Z" fill="#fff" stroke="#fff" stroke-width="0.1" /><ellipse cx="587.5" cy="232.5" rx="61" ry="22" transform="rotate(36 587.5 232.5)" fill="none" stroke="#000" stroke-width="1"/><ellipse cx="587.5" cy="232.5" rx="58.5" ry="20.5" transform="rotate(36 587.5 232.5)" fill="none" stroke="#000" stroke-width="0.6"/><ellipse cx="587.5" cy="232.5" rx="56" ry="19" transform="rotate(36 587.5 232.5)" fill="none" stroke="#000" stroke-width="0.6"/><ellipse cx="587.5" cy="232.5" rx="53" ry="17.5" transform="rotate(36 587.5 232.5)" fill="none" stroke="#000" stroke-width="0.9"/><path d="M575 258 C590 266 606 268 622 262" fill="none" stroke="#000" stroke-width="0.8" /><path d="M603 262 C608 256 614 250 622 247" fill="none" stroke="#000" stroke-width="0.8" /><path d="M598 270 C608 274 620 273 630 268" fill="none" stroke="#000" stroke-width="0.8" /><path d="M606 230 C614 234 620 242 624 252" fill="none" stroke="#000" stroke-width="0.8" /><path d="M614 228 C620 234 626 242 628 250" fill="none" stroke="#000" stroke-width="0.8" /><path d="M586 262 C594 258 600 252 604 246" fill="none" stroke="#000" stroke-width="0.7" /><path d="M509.7 200.3 C514 196 522 197 529.5 198.9 C533 199 536 196 540 196 C545 196 552 198 560.5 202.4 C565 206 566 210 571 212 C575 214 580 213.7 584 216 C590 220 594 224 600 226 L627 233 L626 214.5 L600 196 L584 182 L568.7 175.6 L546.4 177 L542 183 L512.3 173.5 L505.7 175.3 L494.4 184 Z" fill="#fff" stroke="#fff" stroke-width="0.1" /><path d="M509.7 200.3 C514 196 522 197 529.5 198.9 C533 199 536 196 540 196 C545 196 552 198 560.5 202.4 C565 206 566 210 571 212 C575 214 580 213.7 584 216 C590 220 594 224 600 226 L612 229" fill="none" stroke="#000" stroke-width="1.3" /><path d="M494.4 184 L534.3 266 L663 312.5" fill="none" stroke="#000" stroke-width="1.5" /><path d="M495.7 184 L535.1 265.1 L663 311.3" fill="none" stroke="#000" stroke-width="0.6" /><path d="M496.9 184 L535.9 264.2 L663 310.1" fill="none" stroke="#000" stroke-width="0.6" /><path d="M498.2 184 L536.7 263.3 L663 308.9" fill="none" stroke="#000" stroke-width="0.6" /><path d="M499.4 184.1 L537.5 262.4 L663 307.8" fill="none" stroke="#000" stroke-width="0.6" /><path d="M500.7 184.1 L538.3 261.5 L663.1 306.6" fill="none" stroke="#000" stroke-width="0.6" /><path d="M501.9 184.1 L539.1 260.6 L663.1 305.4" fill="none" stroke="#000" stroke-width="0.6" /><path d="M503.2 184.1 L540 259.7 L663.1 304.2" fill="none" stroke="#000" stroke-width="0.6" /><path d="M504.4 184.1 L540.8 258.8 L663.1 303" fill="none" stroke="#000" stroke-width="0.6" /><path d="M505.7 184.1 L541.6 257.9 L663.1 301.8" fill="none" stroke="#000" stroke-width="0.6" /><path d="M506.9 184.1 L542.4 257 L663.1 300.6" fill="none" stroke="#000" stroke-width="0.6" /><path d="M508.2 184.1 L543.2 256.1 L663.1 299.4" fill="none" stroke="#000" stroke-width="0.6" /><path d="M509.4 184.2 L544 255.2 L663.1 298.3" fill="none" stroke="#000" stroke-width="0.6" /><path d="M511.5 187.1 L507.4 194.7" fill="none" stroke="#000" stroke-width="1.4" /><path d="M517.1 198.6 L513 206.2" fill="none" stroke="#000" stroke-width="1.4" /><path d="M522.7 210.2 L518.6 217.7" fill="none" stroke="#000" stroke-width="1.4" /><path d="M528.3 221.7 L524.2 229.3" fill="none" stroke="#000" stroke-width="1.4" /><path d="M533.9 233.2 L529.8 240.8" fill="none" stroke="#000" stroke-width="1.4" /><path d="M539.5 244.8 L535.4 252.3" fill="none" stroke="#000" stroke-width="1.4" /><path d="M551.8 257.4 L551 265.6" fill="none" stroke="#000" stroke-width="1.4" /><path d="M560.4 260.6 L559.6 268.8" fill="none" stroke="#000" stroke-width="1.4" /><path d="M569.1 263.7 L568.2 271.9" fill="none" stroke="#000" stroke-width="1.4" /><path d="M577.7 266.8 L576.9 275" fill="none" stroke="#000" stroke-width="1.4" /><path d="M633.2 286.9 L632.4 295.1" fill="none" stroke="#000" stroke-width="1.4" /><path d="M641.9 290 L641 298.2" fill="none" stroke="#000" stroke-width="1.4" /><path d="M650.5 293.1 L649.7 301.3" fill="none" stroke="#000" stroke-width="1.4" /><path d="M659.1 296.2 L658.3 304.4" fill="none" stroke="#000" stroke-width="1.4" /><path d="M511.4 186.9 L544.4 254.8 L581.4 268.1" fill="none" stroke="#000" stroke-width="0.8" /><path d="M496 190 L494.4 184 L495.5 181 L497 183 L505.7 175.3 L512.3 173.5 L542 183" fill="none" stroke="#000" stroke-width="1.3" /><path d="M505.7 175.3 L511 183.5 L497.5 189" fill="none" stroke="#000" stroke-width="0.8" /><path d="M511 183.5 L540 193" fill="none" stroke="#000" stroke-width="1" /><path d="M542 183.4 L546.4 177 L552 176.3 L568.7 175.6" fill="none" stroke="#000" stroke-width="1.3" /><path d="M546.4 177 L552 181.3 L571 196" fill="none" stroke="#000" stroke-width="1" /><path d="M542 183.4 L549 188 L566 203" fill="none" stroke="#000" stroke-width="1" /><path d="M552 176.3 L572 187 L578 196" fill="none" stroke="#000" stroke-width="0.8" /><path d="M549 188 L552 181.3" fill="none" stroke="#000" stroke-width="0.8" /><path d="M547 189 L557 203" fill="none" stroke="#000" stroke-width="1.6" /><path d="M568.7 175.6 L588.7 183.4 L610 199.6 L626.4 216.4 L610 215 L590 210.5 L575 197 L571 186 Z" fill="#fff" stroke="#fff" stroke-width="0.1" /><path d="M568.7 175.6 L588.7 183.4 L610 199.6 L626.4 216.4" fill="none" stroke="#000" stroke-width="1.4" /><path d="M556.3 182 L572 186 L588.7 191.2 L610 206.7 L626.4 217" fill="none" stroke="#000" stroke-width="1" /><path d="M575 197 L590 210.5 L610 215 L626.4 217.5" fill="none" stroke="#000" stroke-width="1.2" /><path d="M586 184 L588.7 190.5" fill="none" stroke="#000" stroke-width="2.4" /><path d="M589 185.5 L591.5 192" fill="none" stroke="#000" stroke-width="1" /><path d="M606 198.5 L609.5 204.5" fill="none" stroke="#000" stroke-width="2.4" /><path d="M609 200 L612.5 206" fill="none" stroke="#000" stroke-width="1" /><path d="M598 200 L588 216" fill="none" stroke="#000" stroke-width="0.7" /><path d="M542 184 L530 197" fill="none" stroke="#000" stroke-width="0.7" /><ellipse cx="583" cy="235.5" rx="23" ry="11.5" transform="rotate(38 583 235.5)" fill="#fff" stroke="#000" stroke-width="1.3"/><ellipse cx="583" cy="235.5" rx="19.5" ry="9.5" transform="rotate(38 583 235.5)" fill="none" stroke="#000" stroke-width="0.7"/><path d="M586.8 238.9 L594.9 246.2" fill="none" stroke="#000" stroke-width="1.5" /><path d="M585.5 239.2 L590.8 247.3" fill="none" stroke="#000" stroke-width="1.5" /><path d="M583.7 238.8 L585.2 246" fill="none" stroke="#000" stroke-width="1.5" /><path d="M581.8 237.8 L579.1 242.7" fill="none" stroke="#000" stroke-width="1.5" /><path d="M580.1 236.3 L573.8 237.9" fill="none" stroke="#000" stroke-width="1.5" /><path d="M579 234.6 L570.3 232.7" fill="none" stroke="#000" stroke-width="1.5" /><path d="M578.7 233.1 L569.4 228" fill="none" stroke="#000" stroke-width="1.5" /><path d="M579.2 232.1 L571.1 224.8" fill="none" stroke="#000" stroke-width="1.5" /><path d="M580.5 231.8 L575.2 223.7" fill="none" stroke="#000" stroke-width="1.5" /><path d="M582.3 232.2 L580.8 225" fill="none" stroke="#000" stroke-width="1.5" /><path d="M584.2 233.2 L586.9 228.3" fill="none" stroke="#000" stroke-width="1.5" /><path d="M585.9 234.7 L592.2 233.1" fill="none" stroke="#000" stroke-width="1.5" /><path d="M587 236.4 L595.7 238.3" fill="none" stroke="#000" stroke-width="1.5" /><path d="M587.3 237.9 L596.6 243" fill="none" stroke="#000" stroke-width="1.5" /><path d="M536.5 222.2 L546.4 219.4 L550.6 232 L539.4 234.2 Z" fill="none" stroke="#000" stroke-width="1" /><path d="M545 239 L556.3 240.5 L566.9 254.6 L552 253.2 Z" fill="none" stroke="#000" stroke-width="1.3" /><path d="M549 242.5 L555 243 L562 252 L554.5 251 Z" fill="none" stroke="#000" stroke-width="0.8" /><path d="M513 202 L521 216" fill="none" stroke="#000" stroke-width="1.2" /><path d="M519 206 L527 222" fill="none" stroke="#000" stroke-width="0.9" /><path d="M524 214 L536 209 L541 216" fill="none" stroke="#000" stroke-width="0.9" /><circle cx="535" cy="216" r="0.8" fill="none" stroke="#000" stroke-width="0.8"/><path d="M632.5 230 L662.5 312" fill="none" stroke="#000" stroke-width="1.3" /><path d="M637 230 L666 308" fill="none" stroke="#000" stroke-width="1" /><path d="M641 234 L668 303" fill="none" stroke="#000" stroke-width="1" /><path d="M640 262 L618 294" fill="none" stroke="#000" stroke-width="1" /><path d="M643 266 L623 297" fill="none" stroke="#000" stroke-width="1" /><path d="M627 221 L640 262" fill="none" stroke="#000" stroke-width="1" /><path d="M636.2 233 L651.5 219.4 L646.1 213.4 L630.8 227 Z" fill="#fff" stroke="#000" stroke-width="1.2" /><ellipse cx="648.8" cy="216.4" rx="1.8" ry="4" transform="rotate(-41.6 648.8 216.4)" fill="#fff" stroke="#000" stroke-width="1.2"/><path d="M644.1 242.8 L657.9 232.1 L653.7 226.5 L639.9 237.2 Z" fill="#fff" stroke="#000" stroke-width="1.2" /><ellipse cx="655.8" cy="229.3" rx="1.6" ry="3.5" transform="rotate(-37.8 655.8 229.3)" fill="#fff" stroke="#000" stroke-width="1.2"/><path d="M651.2 264.5 L661.5 255.3 L657.1 250.3 L646.8 259.5 Z" fill="#fff" stroke="#000" stroke-width="1.2" /><ellipse cx="659.3" cy="252.8" rx="1.5" ry="3.3" transform="rotate(-41.8 659.3 252.8)" fill="#fff" stroke="#000" stroke-width="1.2"/><path d="M655 240 L672 292" fill="none" stroke="#000" stroke-width="1" /><path d="M660 252 L676 294" fill="none" stroke="#000" stroke-width="0.8" /><path d="M665 302.5 L672 292 L680 296 L681 304 L676 309 L666 308 Z" fill="#fff" stroke="#000" stroke-width="1.2" /><circle cx="673" cy="296" r="2.5" fill="none" stroke="#000" stroke-width="1"/><path d="M662.5 312.5 L667 305" fill="none" stroke="#000" stroke-width="1.3" /><path d="M621 238 L628 234 L633 246 L627 250 L621 238" fill="none" stroke="#000" stroke-width="1.2" /><path d="M615 222 L622 218 L626 226" fill="none" stroke="#000" stroke-width="1" /><path d="M628 243 L634 240 L638 250 L632 254" fill="none" stroke="#000" stroke-width="1" /><path d="M621 213 L627 216 L624 218 Z" fill="#000" stroke="#000" stroke-width="0.5" />
</g>
<g id="p1">
<path d="M582 26.3 L578.4 28.2 L564.3 48.8 L561.4 54.5 L513.5 100.5 L514.4 107.1 L511.6 110.9 L505 110 L498.5 116.5 L514.4 129.7 L520.1 141 L527.6 150.4 L546.4 157.9 L560.5 163.5 L578.4 162.6 L593.4 165.4 L640.4 167.6 L641.7 168.2 L654.6 187 L657.5 183.5 L660.5 181.5 L666.4 185.3 L672.3 187 L678.1 180 L674 173.5 L687.7 157.8 L700.8 139 L710.2 120.2 L719.6 107.9 L730.9 100.4 L754.4 95.7 L753.5 90 L749.7 87.3 L722.5 92 L713 92 L700.8 90 L695.2 85.4 L640.7 77.9 L620 63.8 L607.5 55.4 L602.8 49.8 L595.3 43.2 L587.8 31.9 Z" fill="#fff" stroke="#000" stroke-width="1.6" /><path d="M582.1 52.6 L572.7 55.4 L518.2 107.1 L512.6 112.8 L521 110 L531.4 115.6 L548.3 121.2 L554.9 127.8 L560.5 124 L566.1 125.9 L565.2 132.5 L574.6 138.1 L595.3 142.8 L602.8 139.1 L610.3 144.7 L616 149.4 L621.6 146.6 L650 156.5 L653 152 L710.2 96.7 L702.7 103.2 L640.7 91 L620 82.6 L610.3 75.2 L591.5 59.2 Z" fill="#fff" stroke="#000" stroke-width="1.5" /><path d="M501.3 114.6 L560 136 L640.4 165.4 L650 156.5" fill="none" stroke="#000" stroke-width="1.2" /><path d="M575 141 L640 164" fill="none" stroke="#000" stroke-width="0.6" /><path d="M569 50 L517 101" fill="none" stroke="#000" stroke-width="0.6" /><path d="M572 38 L566 48" fill="none" stroke="#000" stroke-width="0.6" /><path d="M586 38 L582 46" fill="none" stroke="#000" stroke-width="0.6" /><path d="M589 40 L585 48" fill="none" stroke="#000" stroke-width="0.6" /><path d="M590 48 L596 52 L600 47" fill="none" stroke="#000" stroke-width="0.6" /><path d="M641 78 L638 91" fill="none" stroke="#000" stroke-width="0.6" /><path d="M714 100.4 L655.7 157.8" fill="none" stroke="#000" stroke-width="0.7" /><path d="M710.2 96.7 L653 152" fill="none" stroke="#000" stroke-width="2" /><path d="M722.5 92 L710.2 96.7" fill="none" stroke="#000" stroke-width="1" /><path d="M740 89.5 L748 88" fill="none" stroke="#000" stroke-width="0.6" /><path d="M660.5 181.5 L657 172.9 L669.9 168.2 L674 173.5" fill="none" stroke="#000" stroke-width="1.2" /><path d="M657 172.9 L654.5 166 L652.3 162.4" fill="none" stroke="#000" stroke-width="1" /><path d="M669.9 168.2 L671 157" fill="none" stroke="#000" stroke-width="1" /><path d="M657 172.9 Q664 176 666 184" fill="none" stroke="#000" stroke-width="0.8" /><path d="M659 172.2 Q667 174 669 185" fill="none" stroke="#000" stroke-width="0.6" /><ellipse cx="663.2" cy="180.8" rx="2.6" ry="3.4" transform="rotate(25 663.2 180.8)" fill="#fff" stroke="#000" stroke-width="1.3"/><path d="M664 184.5 L668 186" fill="none" stroke="#000" stroke-width="1.6" /><path d="M679 169 L682 170 L680.5 172 Z" fill="#000" stroke="#000" stroke-width="0.5" /><path d="M546 157.5 L556 145 L572 149.5 L563 163" fill="none" stroke="#000" stroke-width="0.7" /><path d="M524 142 L530 150" fill="none" stroke="#000" stroke-width="0.6" /><path d="M529 141 L536 152" fill="none" stroke="#000" stroke-width="0.6" /><path d="M514 130 L521 128 L527 134" fill="none" stroke="#000" stroke-width="0.6" /><path d="M548 121.5 L545 125" fill="none" stroke="#000" stroke-width="0.6" /><path d="M586 141 L594 144 L598 141" fill="none" stroke="#000" stroke-width="1.5" /><path d="M560.5 163.8 L578.4 163 L593.4 165.8 L640 168" fill="none" stroke="#000" stroke-width="2.2" /><path d="M596 166 L622 184 L650 195" fill="none" stroke="#000" stroke-width="1.4" /><path d="M620 182 L648.2 194.4" fill="none" stroke="#000" stroke-width="2.2" /><path d="M640 167.6 L648 180" fill="none" stroke="#000" stroke-width="0.8" /><path d="M686.8 157.5 L713 168 L721.8 156" fill="none" stroke="#000" stroke-width="0.8" />
</g>
<g id="small">
<path d="M725.5 153 L721.5 158" fill="none" stroke="#000" stroke-width="2" /><path d="M724.6 153.2 L722.4 156" fill="none" stroke="#fff" stroke-width="0.5" stroke-dasharray="0.7 0.9"/><circle cx="726.6" cy="151.5" r="2.5" fill="#fff" stroke="#000" stroke-width="1.3"/><circle cx="726.6" cy="151.5" r="1" fill="none" stroke="#000" stroke-width="0.7"/><path d="M684 210.5 L673.4 221.1" fill="none" stroke="#000" stroke-width="2.6" /><path d="M675.5 213 L679 210 L684.5 214.5 L681 217.5 Z" fill="#222" stroke="#000" stroke-width="1" /><path d="M676.5 222.5 L672 218.5" fill="none" stroke="#000" stroke-width="1.4" /><line x1="672.3" y1="222.3" x2="651.1" y2="244.6" stroke="#000" stroke-width="0.8" /><path d="M563 313 L566 310 L570 311.5 L574 314.5 L576 318.5 L573 322 L569 322.5 L565 320 L566.5 317 Z" fill="#3a3a3a" stroke="#000" stroke-width="1.3" /><path d="M566.5 312.5 L572.5 316.5" fill="none" stroke="#ddd" stroke-width="0.8" /><path d="M567 319 L571 320.5" fill="none" stroke="#ccc" stroke-width="0.7" /><line x1="551" y1="311" x2="562" y2="315.4" stroke="#000" stroke-width="0.8" stroke-dasharray="5 2"/><path d="M613 309.5 L615.5 311 L609 318 L607 317.5 Z" fill="#666" stroke="#000" stroke-width="0.8" /><path d="M611.6 309.8 L614.6 312" fill="none" stroke="#000" stroke-width="0.6" /><path d="M610.1 311.6 L613.1 313.8" fill="none" stroke="#000" stroke-width="0.6" /><path d="M608.6 313.5 L611.6 315.7" fill="none" stroke="#000" stroke-width="0.6" /><path d="M607.1 315.3 L610.1 317.5" fill="none" stroke="#000" stroke-width="0.6" /><ellipse cx="616.8" cy="306.3" rx="5.2" ry="3.4" transform="rotate(28 616.8 306.3)" fill="#fff" stroke="#000" stroke-width="1.6"/><path d="M612.5 307.5 Q616 310.5 621 308.5" fill="none" stroke="#000" stroke-width="1" /><line x1="606.5" y1="318.5" x2="594" y2="331.5" stroke="#000" stroke-width="0.7" /><ellipse cx="588.3" cy="338.2" rx="6.6" ry="5" transform="rotate(25 588.3 338.2)" fill="#fff" stroke="#000" stroke-width="1.6"/><ellipse cx="586.6" cy="335.6" rx="6" ry="4.2" transform="rotate(25 586.6 335.6)" fill="#fff" stroke="#000" stroke-width="1.4"/><path d="M582.5 336.5 Q584.5 339.5 589 339" fill="none" stroke="#000" stroke-width="1" /><line x1="584" y1="343.5" x2="569" y2="359" stroke="#000" stroke-width="0.7" /><path d="M593 354 L596 351.5 L600 352.5 L605 356.5 L606 360.5 L603 363 L598 362.5 L594.5 359.5 L596 357 Z" fill="#3a3a3a" stroke="#000" stroke-width="1.3" /><path d="M596.5 354.5 L603 358.5" fill="none" stroke="#ddd" stroke-width="0.8" /><path d="M597 360 L601.5 361" fill="none" stroke="#ccc" stroke-width="0.7" /><line x1="562" y1="345" x2="591.5" y2="355" stroke="#000" stroke-width="0.8" /><ellipse cx="602.5" cy="452" rx="7" ry="4.6" transform="rotate(-10 602.5 452)" fill="#fff" stroke="#000" stroke-width="1.2"/><ellipse cx="603" cy="449.5" rx="5" ry="3" transform="rotate(-10 603 449.5)" fill="#fff" stroke="#000" stroke-width="1"/><ellipse cx="603.3" cy="449" rx="2.6" ry="1.4" transform="rotate(-10 603.3 449)" fill="none" stroke="#000" stroke-width="0.8"/><path d="M374.5 621 L376.5 618.5 L381 619.5 L386 622.5 L387.5 626.5 L385 629 L380 628.5 L376 626.5 L377 623.5 Z" fill="#333" stroke="#000" stroke-width="1.4" /><path d="M378 621.5 L384 625" fill="none" stroke="#ddd" stroke-width="0.9" /><ellipse cx="383.8" cy="626" rx="2.3" ry="1.6" transform="rotate(20 383.8 626)" fill="#fff" stroke="#000" stroke-width="0.9"/><ellipse cx="423.3" cy="623.9" rx="4.2" ry="4.8" transform="rotate(0 423.3 623.9)" fill="#fff" stroke="#000" stroke-width="1.6"/><path d="M417.5 624.2 L422 625.3" fill="none" stroke="#000" stroke-width="2.2" /><ellipse cx="422.6" cy="624.8" rx="1" ry="1.6" transform="rotate(0 422.6 624.8)" fill="#fff" stroke="#000" stroke-width="0.8"/><path d="M471.5 704.5 L476.5 706.5" fill="none" stroke="#000" stroke-width="3" /><ellipse cx="477.3" cy="707" rx="2.2" ry="3" transform="rotate(15 477.3 707)" fill="#fff" stroke="#000" stroke-width="1.4"/><ellipse cx="477.8" cy="707.2" rx="0.8" ry="1.4" transform="rotate(15 477.8 707.2)" fill="none" stroke="#000" stroke-width="0.8"/><path d="M414.3 659.2 L427.4 645.2 L431 647.5 L435.7 651 L435.7 655.9 L442.3 669.1 L445.5 672.4 L445.5 677.3 L452.1 688.8 L456.2 691.3 L456.2 695.4 L453 697 L459.5 703.6 L445.5 718.4 L427.4 692.1 Z" fill="#fff" stroke="#000" stroke-width="1" /><path d="M431 647.5 L427.4 645.2 L414.3 659.2 L427.4 692.1 L445.5 718.4 L459.5 703.6" fill="none" stroke="#000" stroke-width="2.1" /><ellipse cx="425.8" cy="661.7" rx="2.6" ry="4" transform="rotate(18 425.8 661.7)" fill="none" stroke="#000" stroke-width="1.5"/><ellipse cx="430.9" cy="669.9" rx="1" ry="1.7" transform="rotate(18 430.9 669.9)" fill="none" stroke="#000" stroke-width="0.8"/><ellipse cx="439" cy="685.5" rx="2.6" ry="4" transform="rotate(18 439 685.5)" fill="none" stroke="#000" stroke-width="1.5"/><circle cx="444.5" cy="690.5" r="0.5" fill="none" stroke="#000" stroke-width="0.5"/><path d="M108 811.5 L111 809 L115.5 810 L117 813.5 L115 817 L110.5 817.5 L107.5 815 Z" fill="#fff" stroke="#000" stroke-width="1.2" /><ellipse cx="113.5" cy="812.5" rx="2.6" ry="2" transform="rotate(0 113.5 812.5)" fill="none" stroke="#000" stroke-width="1"/><path d="M107 813 L110 812 L111 816 L108 817 Z" fill="#333" stroke="#000" stroke-width="0.8" /><ellipse cx="247.5" cy="724.5" rx="5" ry="2.4" transform="rotate(0 247.5 724.5)" fill="#fff" stroke="#000" stroke-width="1.3"/><path d="M245 723.5 L245.3 717 L247.5 714 L249.7 717 L250 723.5 Z" fill="#222" stroke="#000" stroke-width="1" /><ellipse cx="247.5" cy="726" rx="3.2" ry="1.3" transform="rotate(0 247.5 726)" fill="none" stroke="#000" stroke-width="0.8"/><ellipse cx="163" cy="710" rx="3.6" ry="2.3" transform="rotate(0 163 710)" fill="#fff" stroke="#000" stroke-width="1.3"/><path d="M160.5 708 L161 703 L163 701 L165 703 L165.5 708 Z" fill="#222" stroke="#000" stroke-width="1" /><ellipse cx="163" cy="711" rx="2.2" ry="1.1" transform="rotate(0 163 711)" fill="none" stroke="#000" stroke-width="0.8"/><path d="M184.5 474.5 L187 471.5 L191.5 472.5 L195 478 L193 481 L188.5 481.5 L186 478.5 Z" fill="#fff" stroke="#000" stroke-width="1.2" /><path d="M186 477 L190 475.5 L192.5 479.5 L188.5 481 Z" fill="#555" stroke="#000" stroke-width="0.8" /><line x1="192" y1="481" x2="204" y2="502" stroke="#000" stroke-width="0.7" /><path d="M76.5 651 L79.5 647.5 L84 647 L87.5 650.5 L86.5 654 L81 655.5 L77.5 654.5 Z" fill="#fff" stroke="#000" stroke-width="1.5" /><path d="M79.5 650.5 L83.5 649.5 L85 653 L81 654 Z" fill="#444" stroke="#000" stroke-width="0.8" /><path d="M81 647.5 L82 651" fill="none" stroke="#000" stroke-width="1.2" /><line x1="88" y1="650" x2="106" y2="642" stroke="#000" stroke-width="0.7" /><path d="M52.5 621 L56 617.5 L73 613.5 L76.5 615.5 L74 620 L57 624.5 Z" fill="#fff" stroke="#000" stroke-width="1.8" /><path d="M53 622.5 L57 626 L74 621.5 L76.8 616.5 L76.5 615.5 L74 620 L57 624.5 Z" fill="#000" stroke="#000" stroke-width="0.8" /><ellipse cx="59.5" cy="620.8" rx="2.4" ry="1.3" transform="rotate(-15 59.5 620.8)" fill="none" stroke="#000" stroke-width="1.1"/><ellipse cx="70.5" cy="617.8" rx="2.4" ry="1.3" transform="rotate(-15 70.5 617.8)" fill="none" stroke="#000" stroke-width="1.1"/><circle cx="65" cy="619.2" r="0.7" fill="none" stroke="#000" stroke-width="0.7"/><path d="M72.5 589.5 L75 586.5 L83 588 L86.5 591.5 L86 597 L82.5 599.5 L74 597.5 Z" fill="#555" stroke="#000" stroke-width="1.2" /><path d="M75 587 L82.5 588.5 L85 591 L77 590 Z" fill="#fff" stroke="#000" stroke-width="0.7" /><path d="M77 594 L77.5 599" fill="none" stroke="#fff" stroke-width="1" /><path d="M80 595 L80.5 600" fill="none" stroke="#fff" stroke-width="1" /><path d="M76 598 L77 602" fill="none" stroke="#000" stroke-width="1.2" /><path d="M79.5 598.5 L80 602.5" fill="none" stroke="#000" stroke-width="1.2" /><path d="M102.5 541 A3 4.2 0 1 0 103 548.5" fill="none" stroke="#000" stroke-width="1.3" /><ellipse cx="103.3" cy="544.8" rx="1.8" ry="3.2" transform="rotate(0 103.3 544.8)" fill="#fff" stroke="#000" stroke-width="0.9"/><path d="M275.3 505 L275.5 513" fill="none" stroke="#000" stroke-width="3.2" /><path d="M274 508 L277 508" fill="none" stroke="#fff" stroke-width="0.5" /><path d="M274 510.5 L277 510.5" fill="none" stroke="#fff" stroke-width="0.5" /><path d="M270.5 502.5 L272.5 500 L275.3 499.3 L278.5 500 L280.2 502.8 L278.5 505.8 L275.3 506.5 L272 505.8 Z" fill="#1a1a1a" stroke="#000" stroke-width="1.2" /><path d="M273 502.2 L277.8 502.2" fill="none" stroke="#eee" stroke-width="0.7" /><path d="M262 421.4 L271.4 424.5" fill="none" stroke="#000" stroke-width="3.6" /><path d="M264 420.6 L263 423.4" fill="none" stroke="#fff" stroke-width="0.3" /><path d="M265.8 421.2 L264.8 424" fill="none" stroke="#fff" stroke-width="0.3" /><path d="M267.7 421.8 L266.7 424.6" fill="none" stroke="#fff" stroke-width="0.3" /><path d="M269.5 422.4 L268.5 425.2" fill="none" stroke="#fff" stroke-width="0.3" /><ellipse cx="273.2" cy="425.2" rx="2.6" ry="3.8" transform="rotate(15 273.2 425.2)" fill="#fff" stroke="#000" stroke-width="1.5"/><ellipse cx="274.4" cy="425.6" rx="1.3" ry="2.3" transform="rotate(15 274.4 425.6)" fill="none" stroke="#000" stroke-width="1"/>
</g>
<g id="lines">
<line x1="652" y1="195.3" x2="562" y2="293" stroke="#fff" stroke-width="3.4" /><line x1="664" y1="182.3" x2="551" y2="305" stroke="#000" stroke-width="0.9" stroke-dasharray="38 4 5 4"/><line x1="645" y1="256" x2="350" y2="594" stroke="#fff" stroke-width="3.6" /><line x1="652.5" y1="247.5" x2="342.5" y2="602.5" stroke="#000" stroke-width="0.9" stroke-dasharray="60 4 5 4"/><line x1="590" y1="425" x2="602" y2="448" stroke="#000" stroke-width="0.8" /><line x1="606" y1="459" x2="658.8" y2="563.8" stroke="#000" stroke-width="0.9" stroke-dasharray="45 4 5 4"/><line x1="658.8" y1="563.8" x2="425" y2="817.5" stroke="#000" stroke-width="0.9" stroke-dasharray="70 5 6 5"/><line x1="425" y1="817.5" x2="455" y2="877.5" stroke="#000" stroke-width="0.9" /><line x1="275.5" y1="512" x2="285" y2="831" stroke="#000" stroke-width="0.9" stroke-dasharray="55 4 5 4"/><line x1="285" y1="831" x2="393" y2="790" stroke="#000" stroke-width="0.9" stroke-dasharray="60 5 8 5"/><line x1="93.8" y1="836" x2="188.8" y2="798.8" stroke="#000" stroke-width="0.9" stroke-dasharray="40 4 8 4"/><line x1="188.8" y1="798.8" x2="191" y2="894" stroke="#000" stroke-width="0.9" stroke-dasharray="40 4 8 4"/><line x1="191" y1="894" x2="295" y2="854" stroke="#000" stroke-width="0.9" stroke-dasharray="50 4 8 4"/><line x1="402.5" y1="785" x2="405" y2="877.5" stroke="#000" stroke-width="0.9" stroke-dasharray="40 5 10 5"/><line x1="277.5" y1="427.5" x2="306.2" y2="437.5" stroke="#000" stroke-width="0.7" /><line x1="328.8" y1="442.5" x2="293.8" y2="481.2" stroke="#000" stroke-width="0.9" /><line x1="361" y1="664.3" x2="471.5" y2="704.5" stroke="#000" stroke-width="0.8" /><line x1="300" y1="642.5" x2="360" y2="664" stroke="#000" stroke-width="0.9" stroke-dasharray="30 4 5 4"/><line x1="417.5" y1="625" x2="361.2" y2="648.8" stroke="#000" stroke-width="0.8" /><line x1="375" y1="622.5" x2="341.2" y2="608.8" stroke="#000" stroke-width="0.7" /><line x1="245" y1="612.5" x2="247.5" y2="712.5" stroke="#000" stroke-width="0.8" /><line x1="161.5" y1="680" x2="162.5" y2="702" stroke="#000" stroke-width="0.7" />
</g>
<g id="labels">
<line x1="494" y1="45.5" x2="528" y2="85" stroke="#000" stroke-width="1.7" />
<line x1="728" y1="152.5" x2="765.5" y2="195" stroke="#000" stroke-width="1.7" />
<line x1="680" y1="217.5" x2="715" y2="260" stroke="#000" stroke-width="1.7" />
<line x1="666" y1="309" x2="710" y2="340" stroke="#000" stroke-width="1.7" />
<line x1="573.5" y1="315" x2="581" y2="307" stroke="#000" stroke-width="1.7" />
<line x1="621" y1="310" x2="645" y2="329" stroke="#000" stroke-width="1.7" />
<line x1="594" y1="340" x2="641" y2="366" stroke="#000" stroke-width="1.7" />
<line x1="602.5" y1="364" x2="634" y2="400" stroke="#000" stroke-width="1.7" />
<line x1="610" y1="453.8" x2="663.8" y2="470" stroke="#000" stroke-width="1.7" />
<line x1="507.5" y1="485" x2="555" y2="508.8" stroke="#000" stroke-width="1.7" />
<line x1="475" y1="531" x2="523.8" y2="555" stroke="#000" stroke-width="1.7" />
<line x1="426" y1="561" x2="478.8" y2="575" stroke="#000" stroke-width="1.7" />
<line x1="386.2" y1="622.5" x2="437.5" y2="606.2" stroke="#000" stroke-width="1.7" />
<line x1="426" y1="626" x2="470" y2="646" stroke="#000" stroke-width="1.7" />
<line x1="480" y1="706" x2="522.5" y2="683.8" stroke="#000" stroke-width="1.7" />
<line x1="380" y1="697" x2="425" y2="692.5" stroke="#000" stroke-width="1.7" />
<line x1="150" y1="893.8" x2="177.5" y2="915" stroke="#000" stroke-width="1.7" />
<line x1="88.8" y1="785" x2="110" y2="811" stroke="#000" stroke-width="1.7" />
<line x1="200" y1="715" x2="241" y2="717" stroke="#000" stroke-width="1.7" />
<line x1="133.8" y1="730" x2="160" y2="710" stroke="#000" stroke-width="1.7" />
<line x1="178.8" y1="428.8" x2="187.5" y2="472.5" stroke="#000" stroke-width="1.7" />
<line x1="86.2" y1="655" x2="96.2" y2="691" stroke="#000" stroke-width="1.7" />
<line x1="38.8" y1="586" x2="62.5" y2="617.5" stroke="#000" stroke-width="1.7" />
<line x1="51" y1="551" x2="73.8" y2="587.5" stroke="#000" stroke-width="1.7" />
<line x1="82.5" y1="505" x2="101" y2="542.5" stroke="#000" stroke-width="1.7" />
<line x1="231" y1="470" x2="237.5" y2="512.5" stroke="#000" stroke-width="1.7" />
<line x1="261.2" y1="471.2" x2="273.8" y2="500" stroke="#000" stroke-width="1.7" />
<line x1="258.8" y1="383.8" x2="273.8" y2="422.5" stroke="#000" stroke-width="1.7" />
<line x1="363.8" y1="217.5" x2="378.8" y2="256" stroke="#000" stroke-width="1.7" />
<text x="486.9" y="43.6" font-size="16" text-anchor="middle" >1</text>
<text x="769.8" y="210.1" font-size="16" text-anchor="middle" >2</text>
<text x="721.4" y="274.1" font-size="16" text-anchor="middle" >3</text>
<text x="717.1" y="351.4" font-size="16" text-anchor="middle" >4</text>
<text x="587.2" y="308.1" font-size="16" text-anchor="middle" >5</text>
<text x="652" y="341.6" font-size="16" text-anchor="middle" >6</text>
<text x="648.8" y="379.1" font-size="16" text-anchor="middle" >7</text>
<text x="639.5" y="414.6" font-size="16" text-anchor="middle" >8</text>
<text x="670" y="479.1" font-size="16" text-anchor="middle" >9</text>
<text x="566" y="521.1" font-size="16" text-anchor="middle" >10</text>
<text x="534" y="565.6" font-size="16" text-anchor="middle" >11</text>
<text x="491" y="583.6" font-size="16" text-anchor="middle" >12</text>
<text x="448" y="608.6" font-size="16" text-anchor="middle" >13</text>
<text x="481" y="660.1" font-size="16" text-anchor="middle" >14</text>
<text x="533.5" y="685.1" font-size="16" text-anchor="middle" >15</text>
<text x="368.1" y="704.4" font-size="16" text-anchor="middle" >16</text>
<text x="187.9" y="928.1" font-size="16" text-anchor="middle" >17</text>
<text x="79.4" y="779.1" font-size="16" text-anchor="middle" >18</text>
<text x="187.9" y="720.6" font-size="16" text-anchor="middle" >19</text>
<text x="121.9" y="741.1" font-size="16" text-anchor="middle" >20</text>
<text x="177.8" y="426.4" font-size="16" text-anchor="middle" >21</text>
<text x="95.6" y="706.9" font-size="16" text-anchor="middle" >21</text>
<text x="31.5" y="584.4" font-size="16" text-anchor="middle" >22</text>
<text x="45.4" y="548.6" font-size="16" text-anchor="middle" >23</text>
<text x="76.2" y="500.6" font-size="16" text-anchor="middle" >24</text>
<text x="229.1" y="468.1" font-size="16" text-anchor="middle" >25</text>
<text x="255.2" y="467.6" font-size="16" text-anchor="middle" >26</text>
<text x="255" y="378.6" font-size="16" text-anchor="middle" >27</text>
<text x="357.5" y="213.1" font-size="16" text-anchor="middle" >28</text>
<text x="666.5" y="30.5" font-size="15.4" text-anchor="start" textLength="166.5" lengthAdjust="spacingAndGlyphs" xml:space="preserve">1Y01&#8211;051&#160;&#160;10/26/2017</text>
</g>
<g id="misc">
<circle cx="26.3" cy="921.2" r="9.3" fill="#fff" stroke="#000" stroke-width="1.3"/><text x="26.3" y="925" font-size="11.5" text-anchor="middle" >tw</text><path d="M729.6 576.2 L739.7 581.4 L728.6 601 L718.5 595.2 Z" fill="#fff" stroke="#000" stroke-width="0.6" /><path d="M739.7 581.4 L740.7 585.7 L744.4 584.1 L744.4 601.5 L740.2 603.6 L739.7 608.4 L728.6 601 Z" fill="#000" stroke="#000" stroke-width="0.5" /><path d="M739.7 581 L759.8 570.9 L769.8 576.7 L746 588" fill="none" stroke="#000" stroke-width="0.6" /><path d="M744.4 584.1 L746 588" fill="none" stroke="#000" stroke-width="0.6" /><path d="M745 578.3 L752 583" fill="none" stroke="#000" stroke-width="0.5" /><path d="M751 575.3 L758 580" fill="none" stroke="#000" stroke-width="0.5" /><path d="M753 574.3 L760 579" fill="none" stroke="#000" stroke-width="0.5" /><text x="0" y="0" font-size="14.5" transform="translate(745.9,597.8) skewY(-22) scale(0.9,1)">FRT</text><rect x="808.3" y="911.8" width="24.7" height="29.8" fill="#000"/><rect x="809.4" y="912.9" width="22.5" height="27.6" fill="none" stroke="#ddd" stroke-width="1.1"/><rect x="810.8" y="914.2" width="20.4" height="24.5" fill="#000"/><text x="820.9" y="926.6" font-size="13.6" font-weight="bold" fill="#fff" text-anchor="middle" textLength="14.6" lengthAdjust="spacingAndGlyphs" transform="translate(820.9,926.6) scale(1,1.05) translate(-820.9,-926.6)">GM</text><rect x="813.7" y="928.2" width="14.3" height="1.9" fill="#fff"/><rect x="813.7" y="932.3" width="14.3" height="5" fill="#fff"/><text x="820.9" y="936.7" font-size="5" font-weight="bold" fill="#000" text-anchor="middle" textLength="11.5" lengthAdjust="spacingAndGlyphs">CCA</text>
</g>

</svg>
</body></html>
